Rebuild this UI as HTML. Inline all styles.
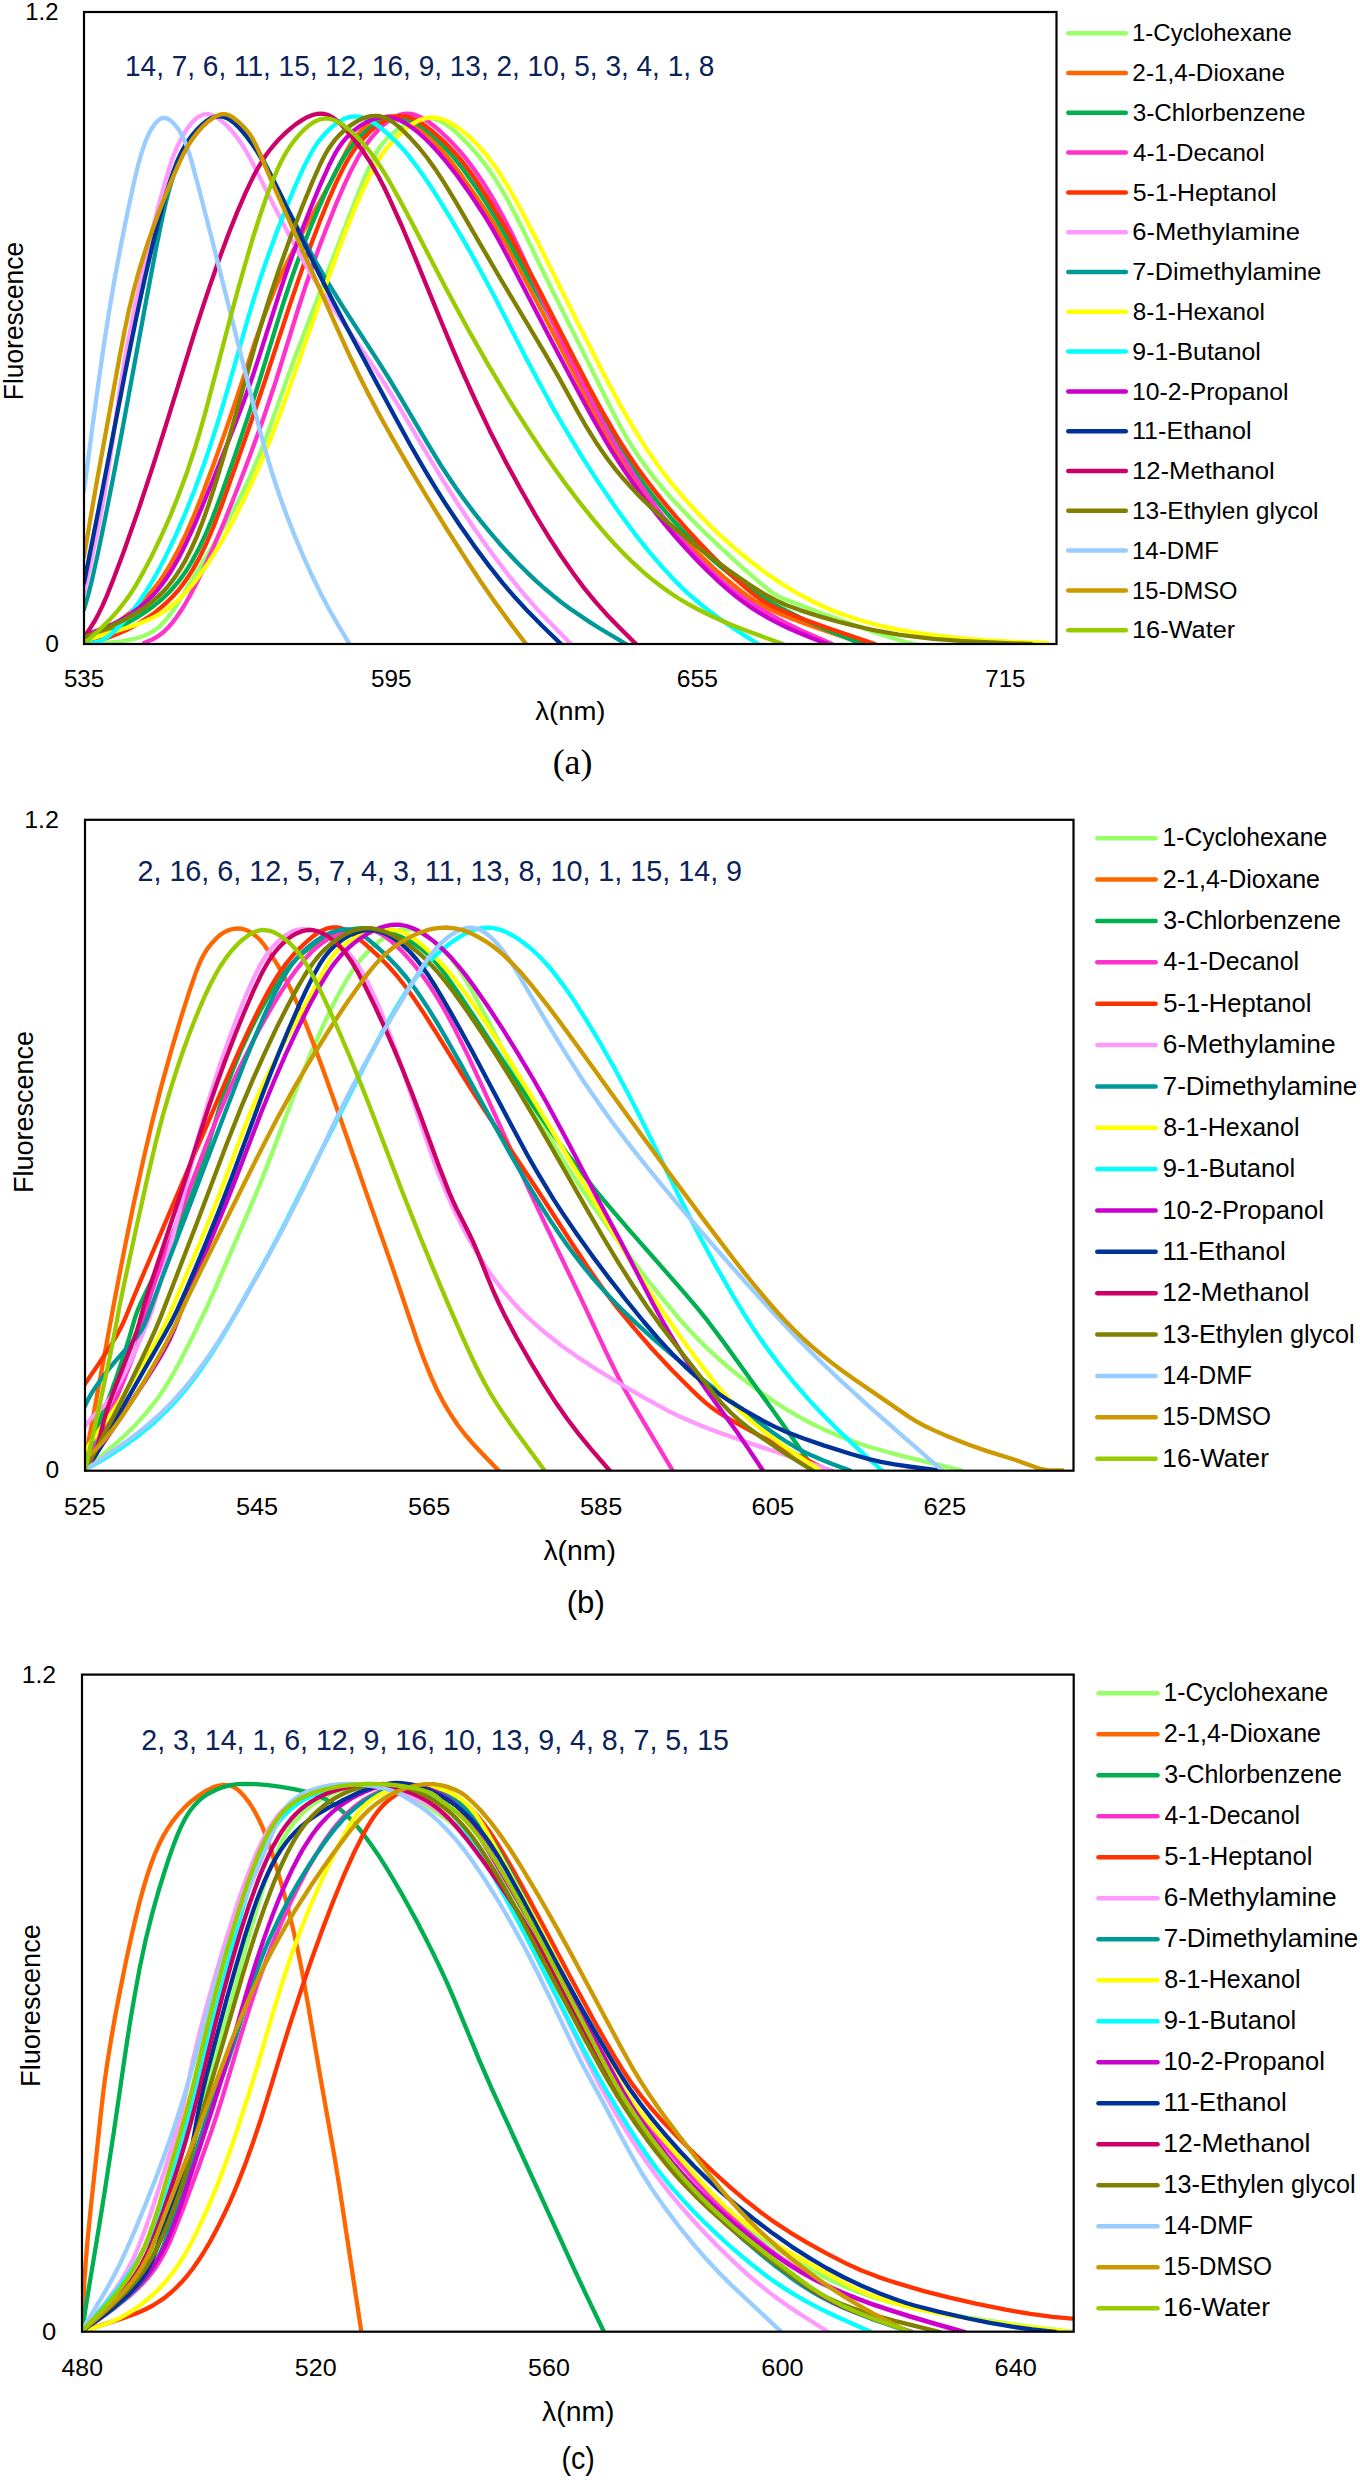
<!DOCTYPE html><html><head><meta charset="utf-8"><style>html,body{margin:0;padding:0;background:#fff;}svg{display:block;}</style></head><body>
<svg width="1360" height="2480" viewBox="0 0 1360 2480">
<rect width="1360" height="2480" fill="#fff"/>
<clipPath id="ac"><rect x="83.5" y="9" width="973.5" height="635.5"/></clipPath>
<g clip-path="url(#ac)" fill="none" stroke-width="4.3" stroke-linecap="round" stroke-linejoin="round">
<path d="M84.0,644.0 105.8,642.9 114.1,642.1 121.4,641.3 127.9,640.2 134.2,638.8 139.8,637.2 144.7,635.5 149.2,633.4 153.2,631.1 157.1,628.4 160.7,625.3 164.4,621.6 167.8,617.5 171.4,612.8 175.4,607.0 207.5,554.8 216.8,539.2 225.0,525.1 233.3,510.2 240.4,496.7 246.5,484.3 252.4,471.5 258.6,456.7 265.0,440.6 272.1,421.1 287.3,378.1 295.4,356.0 348.7,217.5 357.1,196.1 363.8,179.5 369.5,166.4 373.8,157.3 378.5,149.1 381.0,145.5 383.5,142.4 386.4,139.1 389.3,136.2 392.6,133.4 396.1,130.8 400.1,128.0 404.4,125.5 408.5,123.4 412.7,121.7 416.9,120.2 420.7,119.2 424.5,118.6 428.2,118.4 431.4,118.5 434.6,119.1 437.8,120.1 441.0,121.4 444.0,123.0 447.2,125.1 450.6,127.7 454.4,130.9 460.1,136.3 466.1,142.3 471.7,148.1 476.7,153.8 481.4,159.6 485.9,165.4 490.1,171.3 494.4,177.8 499.9,186.7 505.5,196.2 511.3,207.0 517.6,219.0 525.1,234.1 542.8,271.0 554.3,294.4 587.2,360.4 609.6,405.8 616.2,418.6 622.1,429.5 628.0,439.8 633.9,449.3 640.2,458.8 646.8,468.0 653.5,476.9 660.4,485.4 668.3,494.7 676.8,504.0 687.7,515.5 700.0,527.9 712.8,540.3 726.9,553.5 742.2,567.4 757.3,580.5 769.7,590.7 772.7,593.0 775.3,594.7 778.6,596.4 782.8,598.4 798.4,604.6 822.1,613.5 850.2,623.6 876.0,632.6 896.5,639.3 907.6,642.6 915.0,644.0" stroke="#99ff66"/>
<path d="M84.0,644.0 102.5,632.5 115.8,623.6 127.3,615.0 137.6,606.2 142.2,601.7 146.7,597.1 151.1,592.2 155.0,587.4 158.8,582.4 162.7,576.8 170.4,564.5 177.8,550.9 185.4,535.3 192.9,518.2 201.1,497.7 214.0,463.2 226.5,428.1 237.6,395.4 254.9,342.4 263.3,318.4 269.0,303.4 274.8,289.2 281.0,275.4 287.4,261.9 294.3,248.4 302.1,233.6 332.7,178.2 347.0,150.0 350.1,144.6 353.1,140.0 357.1,134.9 361.6,130.3 366.4,126.2 371.7,122.6 376.9,119.8 382.1,117.7 387.0,116.5 391.9,116.1 396.0,116.4 400.2,117.3 404.4,118.7 408.8,120.8 413.4,123.6 418.1,126.9 422.9,130.8 428.2,135.7 433.3,140.7 438.3,146.1 443.4,152.0 448.6,158.4 461.7,175.9 476.1,196.4 486.4,212.0 495.8,227.0 504.4,241.5 513.8,258.4 534.5,297.2 555.5,337.5 570.3,366.2 597.4,420.1 605.1,434.3 612.4,447.1 618.2,456.7 624.3,466.4 630.3,475.2 636.6,484.0 643.4,492.9 650.6,501.9 658.5,511.3 666.7,520.6 678.1,533.0 690.1,545.3 702.4,557.4 714.7,569.0 726.5,579.4 737.6,588.5 747.2,595.8 756.1,601.7 763.4,606.0 771.2,610.0 780.3,614.0 791.4,618.5 804.6,623.4 820.2,629.0 865.0,644.0" stroke="#ff6600"/>
<path d="M84.0,644.0 107.7,633.1 124.8,624.4 132.3,620.2 139.5,615.8 146.2,611.4 152.3,607.0 158.1,602.4 163.4,597.8 168.5,592.9 173.3,587.7 177.9,582.2 182.5,576.1 186.9,569.7 191.0,563.0 198.2,549.9 205.4,534.8 212.5,517.7 220.2,497.4 235.0,455.4 248.6,414.9 259.2,381.6 280.0,313.6 286.2,294.5 292.0,277.0 300.3,253.9 309.1,231.0 318.0,209.6 326.4,190.6 335.3,172.4 339.1,165.2 343.0,158.6 346.7,152.9 350.3,147.8 354.1,143.1 358.1,138.7 362.9,134.0 368.1,129.6 373.4,125.8 378.4,122.7 383.3,120.4 388.3,118.6 392.9,117.5 397.6,117.1 401.4,117.4 405.2,118.1 409.1,119.4 413.3,121.2 417.4,123.5 421.9,126.6 426.6,130.1 431.6,134.4 437.1,139.5 442.5,144.9 447.7,150.5 453.1,156.7 458.3,163.2 463.8,170.2 475.3,186.4 483.7,199.1 492.0,212.3 500.2,226.0 508.5,240.6 569.0,351.7 607.2,424.1 614.3,437.1 621.0,448.6 626.9,458.4 632.8,467.6 638.6,476.4 644.8,485.2 651.4,494.0 657.9,502.4 664.7,510.6 671.7,518.8 681.4,529.4 691.4,539.8 701.8,549.9 712.4,559.6 723.3,568.9 733.9,577.4 744.7,585.4 755.1,592.5 765.6,599.1 776.2,605.3 787.7,611.5 799.8,617.5 812.3,623.4 825.9,629.3 841.3,635.7 862.0,644.0" stroke="#00b050"/>
<path d="M144.0,643.0 149.9,640.6 154.2,638.5 158.0,636.2 161.6,633.6 165.1,630.6 168.7,626.9 172.4,622.6 176.3,617.5 180.4,611.6 184.7,604.8 189.0,597.3 193.6,588.8 203.2,569.8 213.5,547.1 224.5,521.1 236.3,491.5 248.9,458.6 260.4,426.9 268.3,403.8 275.8,381.2 296.3,315.0 303.8,291.5 311.1,270.0 318.4,249.3 327.1,226.4 335.8,204.7 344.0,185.7 351.5,169.7 358.1,157.2 361.4,151.8 364.7,146.7 368.0,142.1 371.7,137.4 375.7,132.8 379.7,128.5 383.6,124.8 387.1,121.9 390.6,119.4 394.1,117.3 397.4,115.7 400.8,114.5 404.0,113.8 407.2,113.6 411.0,113.9 414.8,114.8 418.9,116.4 423.0,118.4 427.3,121.0 431.8,124.3 436.5,128.0 441.8,132.7 447.6,138.2 453.3,144.1 458.7,150.0 464.0,156.1 469.0,162.5 474.0,169.3 479.2,176.7 484.5,184.7 491.2,195.6 498.0,207.4 504.6,219.5 511.1,232.0 520.7,252.1 550.5,317.3 566.9,351.9 585.7,390.0 594.2,406.6 602.2,421.5 610.7,436.7 619.1,450.9 627.5,464.7 636.0,478.1 645.0,491.5 654.2,504.5 663.4,517.0 672.3,528.4 680.8,538.8 689.6,548.9 698.2,558.2 706.7,566.9 715.3,575.1 723.7,582.6 732.3,589.6 740.5,595.8 749.4,601.9 758.3,607.6 767.8,613.2 778.2,619.0 788.8,624.3 800.7,630.1 832.0,644.0" stroke="#ff33cc"/>
<path d="M84.0,644.0 94.4,641.6 102.3,639.4 109.8,636.9 117.3,634.0 125.4,630.5 133.1,626.5 140.7,622.1 148.0,617.4 155.0,612.4 161.4,607.2 167.4,601.8 173.2,596.0 178.4,590.2 183.3,583.9 187.9,577.3 192.6,569.9 199.5,557.6 206.3,543.5 213.2,527.4 220.6,508.3 238.3,458.6 255.1,410.2 266.1,377.5 289.7,305.4 302.8,267.1 311.7,242.7 320.2,220.4 328.3,200.4 335.7,183.6 343.4,167.9 346.9,161.3 350.3,155.7 353.8,150.4 357.3,145.6 361.1,141.0 365.3,136.4 370.1,131.6 374.8,127.5 379.5,124.0 384.2,121.0 388.6,118.8 392.9,117.2 396.9,116.3 400.9,116.0 404.4,116.2 408.2,117.0 411.9,118.2 415.6,119.8 419.6,122.0 423.8,124.6 428.2,127.9 433.0,131.8 438.7,136.8 444.5,142.1 450.0,147.7 455.1,153.2 460.1,158.9 464.8,164.8 469.7,171.2 474.5,178.0 483.6,191.7 493.7,208.0 508.4,233.2 520.6,254.9 537.5,286.6 574.0,358.1 589.8,388.4 603.0,412.7 615.2,433.8 623.1,446.4 630.7,458.1 638.6,469.4 647.0,480.9 656.0,492.6 665.5,504.4 675.9,516.7 686.6,528.8 698.2,541.5 709.7,553.5 721.2,565.1 732.1,575.6 741.7,584.4 750.3,591.7 757.6,597.3 764.4,601.8 770.8,605.5 778.1,609.0 787.7,613.1 799.3,617.7 829.2,628.5 875.0,644.0" stroke="#ff3300"/>
<path d="M84.0,594.0 96.3,536.4 100.7,514.4 104.4,494.1 109.6,461.6 120.8,383.4 124.6,360.2 129.0,336.4 134.9,306.7 142.0,274.2 149.8,240.6 157.5,209.9 164.5,184.1 170.5,164.2 173.0,157.0 175.4,150.7 178.0,144.9 180.7,139.5 184.2,133.3 187.7,127.9 191.1,123.5 194.6,119.8 198.0,117.1 201.3,115.3 204.7,114.3 208.1,114.2 211.8,115.1 215.7,116.9 219.9,119.6 224.2,123.1 228.8,127.7 233.6,133.1 238.3,139.3 242.7,145.7 247.5,153.7 252.9,163.6 277.1,211.9 289.7,236.3 300.6,256.0 311.1,274.1 320.4,289.0 331.0,305.1 370.6,362.4 385.9,385.5 401.7,411.1 431.2,460.9 443.8,481.7 458.1,504.2 472.8,526.2 485.1,543.9 497.3,560.5 509.3,576.2 520.7,590.3 531.3,602.6 542.7,615.1 554.7,627.6 571.0,644.0" stroke="#ff99ff"/>
<path d="M84.0,609.4 88.2,595.0 92.2,579.1 97.8,553.9 104.6,520.9 112.5,481.2 120.6,439.2 146.3,299.9 155.9,249.3 159.6,230.9 163.0,214.9 166.3,200.8 169.4,188.8 174.2,173.2 176.6,166.5 179.1,160.4 181.8,154.5 184.6,149.1 187.8,143.8 191.1,138.7 195.5,132.7 199.3,127.9 202.9,124.1 206.3,121.1 209.9,118.7 213.2,117.1 216.4,116.3 219.7,116.1 223.7,116.9 228.0,118.6 232.4,121.2 237.0,124.7 241.7,129.1 246.7,134.5 251.1,140.0 255.3,146.2 259.5,153.2 264.3,162.0 288.9,211.2 303.1,238.6 315.5,261.3 327.0,281.1 343.9,308.4 376.3,358.4 389.0,378.5 400.5,397.6 426.9,442.4 440.5,464.7 448.6,477.0 456.5,488.7 464.8,500.3 473.5,511.9 482.2,522.9 490.9,533.4 499.7,543.7 508.7,553.6 517.9,563.2 526.8,572.1 535.7,580.6 544.6,588.5 552.8,595.4 561.3,602.2 570.1,608.7 579.3,615.1 588.7,621.4 599.1,628.0 626.0,644.0" stroke="#009999"/>
<path d="M84.0,641.0 105.9,634.1 128.5,627.2 138.2,623.9 144.8,621.3 150.8,618.7 156.3,615.8 161.8,612.6 168.0,608.5 173.8,603.9 179.3,599.0 184.9,593.4 190.2,587.4 196.0,580.3 201.7,572.5 207.8,563.7 214.8,552.7 221.8,541.1 228.9,528.5 236.1,514.9 243.4,500.6 250.2,486.3 256.8,471.6 263.3,456.6 272.6,433.5 282.6,406.9 322.5,294.0 340.6,244.4 348.6,223.9 355.9,205.9 362.5,190.8 368.9,177.5 372.6,170.4 376.2,163.9 379.8,158.0 383.3,152.9 386.8,148.1 390.7,143.4 394.8,138.9 399.0,134.7 403.5,130.7 407.9,127.1 412.2,124.2 416.4,121.8 420.3,119.9 424.3,118.6 428.4,117.8 432.1,117.5 435.3,117.7 438.8,118.3 442.3,119.3 446.1,120.8 449.9,122.6 453.6,124.8 457.6,127.4 461.8,130.6 466.2,134.1 470.7,138.1 479.2,146.6 487.1,155.9 495.1,166.5 501.2,175.6 507.6,186.0 514.3,197.5 521.5,210.7 537.2,241.1 579.5,326.4 603.1,372.8 614.0,393.6 623.1,410.2 632.0,425.5 640.3,439.1 650.4,454.6 660.6,469.0 671.3,482.9 682.9,496.8 695.3,510.5 708.4,524.1 722.2,537.2 736.0,549.4 751.7,562.3 767.2,573.9 782.8,584.5 797.8,593.6 812.8,601.5 820.6,605.2 828.3,608.7 836.1,611.9 844.4,615.0 861.1,620.5 878.5,625.3 897.2,629.4 917.2,633.0 938.9,636.0 962.1,638.4 986.8,640.3 1014.7,641.8 1047.0,643.0" stroke="#ffff00"/>
<path d="M90.0,643.0 94.9,642.3 98.7,641.4 102.3,639.9 106.0,637.9 110.1,634.9 114.5,631.2 119.2,626.5 124.2,621.2 129.2,615.1 134.5,608.2 139.9,600.7 145.2,592.8 150.4,584.4 155.5,575.7 160.6,566.2 165.7,556.4 175.6,535.8 185.2,513.6 194.7,489.7 204.0,464.3 212.3,439.6 220.7,412.9 228.5,386.3 247.8,319.0 254.0,298.4 259.9,279.8 268.0,256.1 276.9,231.6 286.1,208.1 295.1,186.3 303.3,168.1 309.9,155.2 312.9,149.9 316.0,145.1 319.2,140.6 322.7,136.3 326.9,131.7 331.3,127.6 335.4,124.1 339.6,121.3 343.6,119.1 347.6,117.6 351.5,116.6 355.3,116.3 358.8,116.6 362.3,117.4 366.0,118.7 370.0,120.6 373.9,122.9 378.3,125.9 382.7,129.5 387.7,133.8 393.1,138.8 398.1,143.8 402.9,149.0 407.5,154.4 417.0,166.6 427.5,181.7 438.2,198.2 449.7,216.9 462.0,237.7 474.5,259.6 484.2,277.5 494.3,296.3 526.3,358.4 538.4,381.3 551.8,405.8 565.2,429.0 581.9,456.6 599.3,483.6 617.2,509.7 625.9,521.7 634.1,532.8 648.8,551.3 662.8,567.6 669.9,575.3 676.6,582.4 683.4,589.1 689.9,595.1 696.8,601.0 703.6,606.7 710.8,612.3 718.7,618.1 735.2,629.4 758.0,644.0" stroke="#00ffff"/>
<path d="M84.0,635.0 93.2,632.0 100.1,629.5 107.0,626.7 113.7,623.6 120.1,620.3 126.4,616.7 132.3,612.8 137.9,608.8 143.2,604.5 148.1,600.1 152.9,595.3 157.3,590.3 161.6,585.0 165.7,579.3 170.0,572.8 174.1,566.0 179.4,556.6 184.6,546.3 189.9,535.1 195.7,522.1 202.9,504.7 215.9,472.8 234.8,425.0 244.6,399.2 252.8,375.8 260.1,353.7 279.6,292.7 285.9,273.9 292.3,255.8 301.5,231.2 311.0,207.3 320.4,184.6 328.9,165.8 334.7,154.4 337.4,149.7 340.2,145.5 343.1,141.6 346.2,137.9 349.5,134.5 353.0,131.3 357.1,128.1 361.1,125.3 365.3,122.8 369.6,120.7 373.8,119.1 377.9,118.0 382.1,117.3 386.0,117.1 390.1,117.4 394.4,118.3 398.9,119.9 403.3,122.0 407.9,124.7 412.6,128.0 417.7,132.0 423.2,136.8 428.6,142.0 433.9,147.5 439.3,153.5 445.1,160.3 451.3,168.1 457.9,176.7 470.9,195.1 479.0,207.2 486.5,218.9 493.2,230.2 499.8,241.9 508.6,258.4 549.3,336.7 576.1,387.5 591.2,415.4 603.9,437.8 611.1,449.8 618.1,460.9 625.5,472.1 632.9,482.8 640.4,493.2 648.6,504.1 657.2,514.9 666.0,525.6 676.1,537.5 686.4,549.0 696.7,559.9 706.8,570.3 716.8,579.8 726.1,588.1 734.9,595.6 743.4,602.1 751.7,607.9 760.0,613.2 768.5,618.1 777.5,622.9 787.5,627.7 798.3,632.5 810.4,637.5 827.0,644.0" stroke="#cc00cc"/>
<path d="M84.0,583.0 101.5,494.8 125.8,369.1 136.6,316.1 144.5,279.6 152.2,246.4 159.1,218.8 165.6,195.4 171.6,176.4 174.5,168.4 177.2,161.3 180.0,155.1 182.8,149.5 185.8,144.4 189.1,139.4 193.3,133.9 197.6,129.0 201.9,124.8 206.2,121.3 210.2,118.8 214.1,117.1 217.8,116.3 221.5,116.3 223.5,116.7 225.6,117.4 227.8,118.4 230.0,119.7 234.6,123.2 239.3,127.9 245.2,134.8 251.5,143.1 257.2,151.6 262.8,160.9 269.1,172.2 276.5,186.5 318.4,272.5 330.7,296.7 345.1,324.2 394.9,416.8 409.8,444.0 419.1,460.3 427.8,475.2 436.5,489.4 445.3,503.3 459.5,524.8 474.0,545.6 488.5,565.1 502.5,582.8 514.9,597.3 528.1,611.6 542.1,625.8 561.0,644.0" stroke="#003399"/>
<path d="M85.0,636.0 90.5,627.7 94.7,621.0 98.5,613.9 102.4,605.9 106.8,595.8 111.8,583.4 124.0,550.9 138.6,509.4 153.0,465.9 166.1,424.6 194.0,334.3 201.8,310.2 209.2,287.8 218.7,260.5 228.0,235.3 236.9,212.9 245.2,193.7 249.5,184.4 253.6,176.1 257.7,168.5 261.5,162.0 265.4,156.0 269.4,150.5 273.6,145.3 278.2,140.1 284.1,134.2 290.4,128.6 296.3,123.9 302.0,120.1 307.1,117.2 312.0,115.2 316.6,114.0 321.0,113.6 323.8,113.9 326.6,114.6 329.3,115.6 332.1,117.1 334.8,119.0 337.7,121.3 340.7,124.0 344.0,127.4 354.6,140.1 363.6,152.0 371.3,163.9 378.6,176.7 383.8,186.8 389.3,198.3 401.8,226.0 414.3,255.7 441.1,321.2 452.5,348.6 464.5,376.4 476.1,402.0 490.1,431.4 504.8,460.1 520.1,488.3 535.7,515.5 548.4,536.3 560.8,555.5 572.8,572.8 584.2,588.1 594.9,601.2 606.4,614.2 618.9,627.1 636.0,644.0" stroke="#cc0066"/>
<path d="M84.0,637.6 106.6,628.1 114.9,624.3 122.7,620.5 129.8,616.7 136.3,612.9 142.6,608.9 148.2,604.8 153.7,600.4 158.6,596.1 163.3,591.5 167.8,586.5 172.0,581.2 176.3,575.2 180.4,568.9 184.6,561.9 190.7,550.0 196.8,536.6 202.7,521.5 208.7,504.6 216.0,482.2 223.9,455.9 231.9,428.2 254.6,347.0 262.5,320.4 269.9,296.6 279.6,267.7 290.3,237.8 301.7,208.1 312.5,181.6 320.1,164.5 323.2,158.2 326.0,153.0 328.9,148.2 331.9,144.0 335.0,139.9 338.6,135.9 343.0,131.6 347.6,127.7 352.5,124.1 357.3,121.1 362.0,118.8 366.6,117.1 371.0,116.1 375.3,115.8 378.3,115.9 381.2,116.5 384.1,117.4 387.2,118.7 390.2,120.4 393.4,122.4 399.8,127.6 404.2,131.7 409.3,136.9 418.9,147.5 427.3,158.0 435.6,169.7 444.7,183.7 455.6,201.7 500.0,278.0 545.4,354.1 557.7,375.4 577.7,411.7 586.6,427.2 597.3,444.3 602.6,452.1 607.9,459.5 615.5,469.4 623.4,478.8 631.5,487.8 640.7,497.4 651.1,507.4 662.5,517.8 674.9,528.5 688.0,539.3 707.7,554.7 728.3,569.9 748.9,584.2 757.9,590.0 765.4,594.7 775.6,600.2 786.6,605.2 799.9,610.1 816.2,615.4 828.2,618.9 840.1,622.2 852.0,625.2 864.1,628.0 876.2,630.6 887.6,632.7 898.7,634.6 909.9,636.2 933.6,638.8 960.1,640.9 989.6,642.5 1031.0,644.0" stroke="#808000"/>
<path d="M84.0,491.0 92.1,429.5 98.2,384.7 103.6,346.7 108.8,313.3 114.4,280.2 120.5,247.4 127.2,213.9 133.6,184.0 138.3,164.3 142.0,151.4 145.7,140.8 147.8,136.0 150.1,131.4 152.5,127.4 154.9,123.9 157.3,121.3 159.6,119.4 161.9,118.2 164.1,117.8 166.4,118.2 168.6,119.2 171.7,121.4 174.7,124.6 177.9,128.7 181.0,133.7 183.7,138.9 186.1,144.5 188.4,150.9 190.8,158.4 198.8,188.2 212.7,242.3 259.1,427.4 264.1,445.8 269.0,462.8 274.0,479.0 279.1,494.3 286.5,514.9 294.7,535.9 303.4,556.5 312.1,575.8 320.2,592.4 328.4,608.0 337.4,623.8 349.5,644.0" stroke="#99ccff"/>
<path d="M84.0,557.0 90.9,515.6 96.6,482.9 120.6,351.4 124.5,331.2 128.9,310.2 133.5,291.0 138.3,273.2 143.9,254.8 148.7,240.2 154.1,225.1 159.8,209.7 165.9,194.2 172.6,178.0 178.9,163.6 183.3,154.4 187.5,146.7 192.0,139.6 197.0,133.0 202.4,126.9 207.9,121.7 213.1,117.9 217.8,115.4 220.1,114.6 222.1,114.2 224.0,114.1 226.0,114.3 229.3,115.4 232.8,117.4 237.7,121.2 242.4,125.5 246.1,129.5 249.3,133.5 252.1,137.9 254.9,143.0 259.6,152.9 270.0,177.3 279.5,198.9 310.4,267.9 337.3,328.6 349.0,354.4 359.2,375.8 369.3,395.8 380.5,416.9 392.7,438.8 409.0,466.9 428.2,499.0 447.6,530.4 466.1,559.4 480.8,581.7 494.3,601.2 508.1,620.3 526.0,644.0" stroke="#cc9900"/>
<path d="M84.0,644.0 99.2,630.0 110.1,619.3 118.7,609.6 126.3,599.8 130.3,594.1 134.3,587.8 142.8,573.1 151.8,555.9 160.9,537.0 170.6,515.1 179.4,493.1 187.1,471.9 194.6,449.3 200.1,431.1 205.9,410.3 231.7,312.6 239.0,285.9 245.8,262.0 252.7,238.5 259.4,217.5 265.7,199.0 271.5,183.3 277.7,168.8 280.7,162.5 283.7,156.8 286.7,151.5 289.9,146.6 293.2,142.0 296.7,137.6 300.7,133.1 304.6,129.2 308.5,125.8 312.1,123.2 315.6,121.2 319.1,119.7 322.5,118.8 325.9,118.5 328.5,118.7 331.3,119.2 334.0,120.1 336.8,121.3 339.8,122.9 342.8,124.8 349.3,129.7 356.9,136.8 364.0,144.4 370.6,152.5 377.5,162.1 382.5,170.0 388.0,179.0 400.6,201.4 412.7,224.3 445.6,287.8 467.9,329.0 487.4,363.4 506.8,396.0 518.9,415.4 531.2,434.4 543.4,452.6 555.6,470.0 568.6,487.9 581.0,504.2 592.6,518.7 603.9,532.1 613.4,542.7 622.8,552.6 632.0,561.7 641.1,570.1 650.4,578.1 659.6,585.3 668.5,591.8 678.0,598.0 687.8,603.9 698.2,609.5 709.2,615.0 721.3,620.5 733.5,625.7 747.3,631.1 783.0,644.0" stroke="#99cc00"/>
</g>
<rect x="84" y="12" width="972.5" height="632" fill="none" stroke="#000" stroke-width="2.2"/>
<line x1="1068.3" y1="33.2" x2="1125.8" y2="33.2" stroke="#99ff66" stroke-width="4.5" stroke-linecap="round"/>
<line x1="1068.3" y1="73.0" x2="1125.8" y2="73.0" stroke="#ff6600" stroke-width="4.5" stroke-linecap="round"/>
<line x1="1068.3" y1="112.8" x2="1125.8" y2="112.8" stroke="#00b050" stroke-width="4.5" stroke-linecap="round"/>
<line x1="1068.3" y1="152.6" x2="1125.8" y2="152.6" stroke="#ff33cc" stroke-width="4.5" stroke-linecap="round"/>
<line x1="1068.3" y1="192.4" x2="1125.8" y2="192.4" stroke="#ff3300" stroke-width="4.5" stroke-linecap="round"/>
<line x1="1068.3" y1="232.2" x2="1125.8" y2="232.2" stroke="#ff99ff" stroke-width="4.5" stroke-linecap="round"/>
<line x1="1068.3" y1="272.0" x2="1125.8" y2="272.0" stroke="#009999" stroke-width="4.5" stroke-linecap="round"/>
<line x1="1068.3" y1="311.8" x2="1125.8" y2="311.8" stroke="#ffff00" stroke-width="4.5" stroke-linecap="round"/>
<line x1="1068.3" y1="351.6" x2="1125.8" y2="351.6" stroke="#00ffff" stroke-width="4.5" stroke-linecap="round"/>
<line x1="1068.3" y1="391.4" x2="1125.8" y2="391.4" stroke="#cc00cc" stroke-width="4.5" stroke-linecap="round"/>
<line x1="1068.3" y1="431.2" x2="1125.8" y2="431.2" stroke="#003399" stroke-width="4.5" stroke-linecap="round"/>
<line x1="1068.3" y1="471.0" x2="1125.8" y2="471.0" stroke="#cc0066" stroke-width="4.5" stroke-linecap="round"/>
<line x1="1068.3" y1="510.8" x2="1125.8" y2="510.8" stroke="#808000" stroke-width="4.5" stroke-linecap="round"/>
<line x1="1068.3" y1="550.6" x2="1125.8" y2="550.6" stroke="#99ccff" stroke-width="4.5" stroke-linecap="round"/>
<line x1="1068.3" y1="590.4" x2="1125.8" y2="590.4" stroke="#cc9900" stroke-width="4.5" stroke-linecap="round"/>
<line x1="1068.3" y1="630.2" x2="1125.8" y2="630.2" stroke="#99cc00" stroke-width="4.5" stroke-linecap="round"/>
<clipPath id="bc"><rect x="84.5" y="816.8" width="989.5" height="654.4000000000001"/></clipPath>
<g clip-path="url(#bc)" fill="none" stroke-width="4.3" stroke-linecap="round" stroke-linejoin="round">
<path d="M85.0,1470.0 91.0,1464.6 108.7,1449.7 118.6,1441.1 127.9,1432.5 136.8,1423.4 146.2,1412.9 154.6,1402.4 161.9,1392.2 169.1,1380.8 174.0,1372.3 179.6,1361.9 193.1,1335.8 204.7,1311.8 215.5,1287.8 252.0,1203.3 260.0,1184.1 268.7,1161.9 293.3,1097.1 301.1,1077.3 308.6,1058.9 316.4,1040.6 323.9,1024.1 330.8,1009.4 337.4,996.3 345.9,981.2 349.8,974.9 353.8,968.9 357.9,963.3 362.0,958.2 366.2,953.4 370.5,949.0 375.6,944.4 380.6,940.2 385.5,936.7 389.9,934.0 394.1,931.9 398.4,930.3 402.4,929.4 406.4,929.1 409.2,929.2 412.0,929.6 414.8,930.3 417.8,931.4 423.9,934.3 430.3,938.6 437.3,944.2 444.0,950.7 450.3,957.8 456.5,965.8 461.4,973.1 466.4,981.1 471.9,990.6 477.9,1001.4 489.4,1023.3 520.5,1084.6 529.5,1101.7 538.7,1118.5 548.0,1134.9 557.6,1151.0 567.5,1167.1 577.5,1182.7 592.5,1205.0 609.2,1228.8 627.2,1253.3 645.5,1277.2 662.9,1299.1 678.8,1318.2 692.1,1333.1 704.8,1346.1 717.1,1357.5 730.6,1369.1 745.4,1380.9 760.5,1392.2 775.2,1402.2 789.4,1411.2 802.9,1419.0 816.8,1426.1 829.6,1432.0 842.8,1437.4 857.6,1443.0 870.5,1447.2 883.8,1451.0 901.8,1455.8 962.0,1470.5" stroke="#99ff66"/>
<path d="M84.0,1466.0 114.9,1298.3 124.4,1249.4 133.5,1204.8 142.9,1161.6 151.7,1124.0 160.7,1088.6 170.8,1052.1 181.3,1016.6 191.1,986.2 194.8,975.6 197.9,967.3 200.8,960.5 203.6,955.0 207.0,949.4 210.9,944.3 216.3,938.4 221.1,934.2 225.0,931.7 229.0,930.0 233.6,928.8 238.2,928.5 241.1,928.7 243.9,929.3 246.6,930.2 249.5,931.7 252.6,933.6 255.7,935.9 258.5,938.4 261.2,941.3 264.2,945.0 268.0,950.4 277.1,964.1 284.2,976.4 290.7,989.0 297.8,1004.6 305.4,1022.9 313.8,1044.6 323.4,1070.6 338.5,1113.0 367.7,1196.9 392.5,1267.6 417.7,1342.2 424.6,1361.0 431.1,1376.9 437.2,1390.3 443.7,1402.8 450.7,1414.5 458.1,1425.5 465.0,1434.5 473.2,1444.0 483.3,1454.8 498.6,1470.5" stroke="#ff6600"/>
<path d="M85.0,1470.0 92.7,1442.9 98.0,1425.8 101.7,1415.4 110.0,1395.2 116.9,1376.0 125.9,1348.7 130.0,1335.0 134.6,1319.2 137.1,1311.6 140.4,1303.9 145.2,1293.6 166.4,1250.9 175.7,1231.9 183.1,1215.7 189.2,1201.3 195.0,1186.2 200.6,1170.0 205.7,1153.6 218.8,1109.8 223.2,1096.3 227.5,1084.0 233.7,1067.8 240.6,1051.2 248.1,1034.9 255.8,1019.2 262.0,1007.6 267.9,997.2 273.8,987.6 279.6,979.0 285.1,971.6 290.9,964.8 296.5,959.0 302.5,953.5 309.6,948.0 317.5,942.7 325.3,938.3 333.3,934.6 340.9,931.8 348.4,929.8 355.8,928.6 363.4,928.2 368.2,928.4 373.4,928.9 378.6,929.7 384.1,931.0 389.6,932.5 395.0,934.4 400.2,936.5 405.2,938.9 410.0,941.4 414.6,944.2 418.9,947.1 422.9,950.1 426.7,953.3 430.6,957.0 434.3,960.9 438.2,965.3 442.7,971.0 447.8,977.9 461.4,997.5 475.9,1019.3 514.3,1077.9 533.8,1106.9 550.3,1130.5 566.4,1152.7 586.5,1178.8 597.1,1192.0 607.7,1204.8 630.0,1230.9 684.0,1292.3 697.0,1307.7 707.9,1321.2 723.2,1341.6 771.4,1408.3 790.4,1435.1 815.0,1470.5" stroke="#00b050"/>
<path d="M85.0,1470.0 101.8,1432.0 114.2,1403.3 124.8,1377.8 132.9,1357.0 137.2,1345.1 140.4,1335.0 142.4,1327.4 145.7,1312.5 147.6,1305.0 151.0,1293.9 155.6,1280.1 161.7,1262.8 169.8,1241.0 206.1,1145.3 217.2,1117.8 228.0,1092.7 239.6,1067.9 252.0,1043.2 260.2,1027.6 268.6,1012.7 276.5,999.2 284.1,987.2 291.4,976.4 298.2,967.3 304.7,959.3 311.0,952.5 316.8,947.2 322.6,942.6 328.5,938.9 334.7,936.0 341.6,933.5 349.3,931.6 358.0,930.2 365.6,929.6 369.7,929.9 373.5,930.7 377.3,932.1 381.4,934.2 386.1,937.2 391.0,941.1 396.2,945.6 401.5,950.8 406.9,956.5 412.7,963.2 418.5,970.3 423.9,977.5 429.2,985.1 434.3,992.9 439.6,1001.4 444.7,1010.2 450.1,1020.1 455.9,1031.1 468.2,1056.1 479.3,1080.1 514.9,1158.9 530.7,1193.3 545.8,1225.3 580.6,1297.6 606.2,1352.3 615.4,1371.3 622.9,1386.1 631.1,1400.8 672.6,1470.5" stroke="#ff33cc"/>
<path d="M84.0,1385.3 99.5,1362.6 109.7,1347.0 117.1,1334.8 122.2,1325.0 125.0,1318.7 133.8,1297.0 144.9,1270.5 210.4,1116.8 228.6,1074.7 240.1,1048.7 250.3,1026.7 259.4,1008.2 267.6,992.6 272.0,984.9 276.3,977.8 280.5,971.5 284.8,965.4 289.2,959.8 293.6,954.6 298.4,949.6 303.6,944.5 308.6,940.0 313.4,936.1 317.8,933.0 321.8,930.7 325.9,928.9 329.7,927.8 333.3,927.3 336.9,927.4 339.8,927.9 342.6,928.8 345.7,930.1 349.0,931.8 355.7,936.3 364.1,943.2 376.8,954.6 386.9,964.5 396.3,975.0 405.4,986.5 414.4,999.1 424.6,1014.4 438.2,1035.8 468.9,1085.5 482.3,1106.6 498.5,1131.4 537.8,1190.5 572.7,1244.5 587.5,1266.8 603.0,1288.9 617.8,1308.4 634.1,1328.2 652.2,1349.0 671.6,1369.7 690.6,1388.8 698.5,1396.4 705.1,1402.3 710.5,1406.7 716.0,1410.7 722.1,1414.7 729.9,1419.4 751.6,1431.4 781.8,1447.1 828.0,1470.5" stroke="#ff3300"/>
<path d="M84.0,1428.0 88.0,1422.3 91.2,1418.2 93.9,1415.5 102.2,1407.6 107.1,1402.1 111.7,1396.0 116.4,1388.6 123.4,1375.8 131.4,1359.4 141.0,1337.7 146.5,1324.7 149.6,1316.9 152.7,1308.0 156.2,1297.1 165.4,1264.7 177.0,1221.0 197.9,1138.9 204.1,1116.2 210.1,1095.7 219.3,1066.8 229.8,1036.9 240.3,1009.3 245.4,996.7 250.2,985.6 257.0,971.3 260.0,965.5 263.1,960.2 266.3,955.3 269.4,951.0 272.7,947.0 276.3,943.2 280.0,939.6 283.8,936.6 287.5,934.1 291.2,932.1 294.9,930.6 298.5,929.6 302.3,929.1 306.1,929.1 309.8,929.5 313.4,930.3 317.4,931.5 321.4,933.1 325.7,935.2 329.8,937.6 333.9,940.3 338.0,943.3 341.6,946.4 345.1,949.5 348.3,952.8 351.6,956.6 354.5,960.3 357.5,964.5 363.3,974.0 368.8,984.6 374.7,997.1 381.1,1012.1 387.9,1029.3 395.1,1048.5 402.7,1070.0 425.0,1135.8 433.4,1159.9 438.6,1173.6 443.7,1186.3 448.6,1198.0 454.0,1209.8 461.2,1224.6 468.8,1238.9 476.6,1252.4 485.0,1265.7 493.3,1277.7 502.1,1289.3 511.1,1300.0 520.5,1310.2 526.6,1316.3 532.9,1322.2 546.4,1333.8 561.2,1345.4 577.7,1357.1 597.5,1370.0 622.2,1385.0 647.2,1399.4 668.7,1411.1 679.5,1416.4 689.3,1420.8 706.8,1427.9 719.7,1432.8 758.3,1446.1 832.0,1470.5" stroke="#ff99ff"/>
<path d="M84.0,1408.0 87.3,1401.0 90.5,1395.1 94.5,1388.7 99.7,1381.2 106.8,1371.7 114.5,1362.2 120.9,1354.8 132.5,1341.8 137.0,1336.4 141.3,1330.4 144.6,1324.2 147.3,1317.7 160.6,1281.7 193.6,1195.6 225.8,1110.7 243.9,1064.0 254.3,1038.5 263.5,1017.0 271.9,999.0 279.7,983.9 283.5,977.3 287.2,971.4 290.7,966.1 294.3,961.3 298.1,956.9 302.0,952.7 306.1,948.8 310.4,945.1 315.3,941.4 320.4,938.0 325.4,935.2 330.2,932.9 335.0,931.2 339.4,930.0 343.5,929.5 347.5,929.5 350.5,929.9 353.7,930.8 356.8,932.0 360.1,933.7 363.3,935.7 366.9,938.3 375.9,945.8 387.4,956.4 397.1,966.5 406.5,977.5 415.4,989.3 422.0,998.9 429.0,1009.7 436.6,1022.0 444.9,1036.0 460.6,1063.7 495.2,1126.8 511.0,1155.1 527.5,1183.7 543.1,1209.1 551.3,1221.9 559.3,1233.8 567.3,1245.3 575.1,1255.8 582.9,1265.9 591.1,1276.0 599.4,1285.6 608.2,1295.3 621.7,1309.4 636.4,1323.4 652.8,1338.3 671.3,1354.1 690.9,1370.1 712.9,1387.4 739.5,1407.7 769.6,1430.2 779.3,1437.0 788.0,1442.7 796.0,1447.5 804.2,1451.9 813.1,1456.1 822.9,1460.3 834.2,1464.7 850.0,1470.5" stroke="#009999"/>
<path d="M84.0,1452.0 98.1,1431.7 110.2,1415.1 122.6,1396.2 135.9,1375.0 148.4,1354.3 158.2,1337.5 164.4,1325.8 168.6,1316.8 176.1,1298.8 198.4,1246.4 209.7,1219.0 221.1,1190.1 244.1,1128.5 251.0,1111.4 257.6,1096.0 267.3,1075.7 279.3,1052.1 289.7,1032.8 311.4,993.4 326.4,965.7 329.1,961.3 331.7,957.4 334.4,954.0 337.2,950.9 340.3,947.9 343.5,945.2 347.0,942.7 350.7,940.4 355.4,937.9 360.3,935.7 365.4,933.7 370.3,932.2 375.1,931.0 379.9,930.2 384.6,929.7 389.1,929.6 393.1,929.8 397.1,930.6 400.9,931.6 404.8,933.2 408.4,935.1 412.4,937.6 416.5,940.6 421.0,944.2 427.3,949.7 433.2,955.2 439.0,961.1 444.6,967.0 450.1,973.3 455.7,980.3 467.2,995.5 476.4,1008.7 486.6,1023.9 497.8,1041.4 510.3,1061.4 538.3,1107.6 611.0,1229.1 631.2,1262.0 648.1,1289.0 663.5,1312.6 678.0,1333.5 695.2,1357.1 713.7,1381.3 724.1,1393.8 734.0,1404.7 743.8,1414.4 754.5,1423.9 766.8,1433.7 780.8,1444.0 797.1,1455.2 820.2,1470.5" stroke="#ffff00"/>
<path d="M85.0,1470.0 103.3,1459.4 119.3,1449.2 134.4,1438.6 141.4,1433.2 148.1,1427.7 154.7,1422.0 160.9,1416.2 167.1,1410.2 172.8,1404.2 178.5,1397.9 184.0,1391.4 195.3,1377.0 202.2,1367.4 209.3,1357.0 216.5,1345.8 223.8,1334.0 238.4,1308.9 263.9,1263.3 273.6,1245.2 283.1,1226.9 329.6,1134.2 356.0,1082.3 369.6,1056.0 380.0,1036.3 389.1,1019.9 397.6,1005.4 405.4,993.0 410.3,985.6 415.2,978.8 420.0,972.6 425.0,966.6 429.8,961.3 434.8,956.2 440.0,951.4 445.7,946.7 451.8,942.1 457.5,938.2 462.8,935.0 468.1,932.3 473.2,930.2 478.1,928.8 482.9,927.9 487.5,927.6 491.7,927.9 495.9,928.6 500.1,929.7 504.6,931.4 509.0,933.5 513.6,936.0 518.5,939.1 523.5,942.7 528.6,946.7 533.6,951.0 538.4,955.5 543.1,960.3 547.9,965.5 552.6,971.1 562.5,984.1 574.0,1000.6 586.5,1020.3 600.0,1042.7 613.7,1066.8 625.1,1087.9 636.2,1109.3 647.6,1132.0 679.3,1196.7 690.2,1218.1 701.2,1238.9 715.0,1264.4 728.3,1287.8 740.4,1308.2 751.7,1326.1 764.5,1344.7 778.2,1363.1 793.4,1382.0 809.0,1399.9 823.4,1415.3 838.9,1430.8 856.7,1447.6 882.0,1470.5" stroke="#00ffff"/>
<path d="M85.0,1470.0 122.3,1415.3 145.4,1380.5 154.0,1367.0 160.7,1356.1 165.7,1347.3 169.7,1339.6 174.1,1329.7 181.8,1309.5 187.3,1295.7 214.6,1231.0 226.5,1202.2 236.5,1176.9 260.1,1115.3 267.4,1097.2 274.2,1080.7 286.0,1053.7 297.8,1028.5 309.2,1005.5 319.7,986.2 324.2,978.6 328.4,971.9 332.3,966.1 336.4,960.8 340.6,955.8 344.8,951.3 349.3,947.1 354.2,942.9 359.8,938.7 365.4,935.0 370.9,931.8 376.3,929.2 381.4,927.3 386.6,925.8 391.5,924.9 396.3,924.7 401.4,925.0 406.4,926.0 411.6,927.8 416.7,930.0 422.3,933.1 427.9,936.9 433.8,941.4 439.9,946.6 445.3,951.7 450.6,957.1 455.9,963.1 461.3,969.6 467.0,976.9 473.6,985.8 488.5,1007.3 503.3,1029.9 518.3,1054.1 533.2,1079.0 547.0,1103.3 565.5,1137.5 598.1,1199.6 620.5,1240.9 652.9,1303.4 662.1,1320.3 670.5,1334.8 682.4,1354.3 695.3,1373.7 707.6,1391.4 737.5,1432.8 748.3,1448.6 762.9,1470.5" stroke="#cc00cc"/>
<path d="M85.0,1470.0 88.8,1465.4 91.9,1461.1 95.4,1455.7 99.7,1448.4 123.2,1406.5 164.3,1334.8 171.4,1321.9 177.0,1310.4 185.7,1290.8 196.7,1265.0 208.0,1237.8 218.7,1211.4 232.5,1175.5 261.9,1096.1 270.5,1073.8 279.3,1051.7 289.0,1028.5 298.1,1007.7 306.4,989.6 313.6,975.2 319.6,964.5 322.4,960.2 325.3,956.1 328.3,952.4 331.3,949.1 334.7,945.8 338.1,942.9 342.0,940.0 346.1,937.3 350.0,935.1 354.1,933.3 358.2,931.8 362.1,930.8 365.9,930.2 369.5,930.0 372.7,930.2 375.8,930.6 378.9,931.3 382.3,932.4 385.7,933.8 388.9,935.4 392.4,937.4 395.8,939.7 402.8,945.1 409.8,951.7 416.5,959.2 423.0,967.7 429.0,976.3 435.5,986.5 443.0,999.0 451.1,1013.1 461.1,1031.0 472.3,1051.5 512.2,1126.8 527.1,1154.4 536.3,1170.6 545.0,1185.2 553.6,1199.3 562.4,1212.9 576.6,1233.8 592.1,1255.6 608.8,1277.9 626.3,1300.3 643.6,1321.5 658.3,1338.6 671.9,1353.4 684.8,1366.3 695.3,1375.8 705.5,1384.1 716.5,1392.3 728.9,1400.7 744.2,1410.1 762.8,1420.7 775.0,1426.9 787.2,1432.3 803.0,1438.3 823.6,1445.4 851.8,1454.3 869.9,1459.4 880.8,1461.9 894.5,1464.3 912.3,1467.0 938.8,1470.5" stroke="#003399"/>
<path d="M85.0,1470.0 89.6,1462.6 92.6,1457.1 95.1,1452.0 97.0,1447.2 99.1,1440.3 103.8,1420.8 107.1,1409.8 114.0,1390.4 131.2,1346.4 136.7,1331.4 139.3,1322.9 144.5,1303.6 149.7,1287.2 178.6,1200.2 200.7,1131.4 209.6,1104.4 217.9,1080.7 226.5,1057.0 235.5,1033.7 244.1,1012.5 253.6,990.4 261.7,973.4 265.2,967.0 268.5,961.3 271.9,956.2 275.3,951.7 279.5,946.8 283.8,942.5 288.2,938.7 292.6,935.6 297.0,933.2 301.4,931.4 305.7,930.4 309.7,930.0 312.7,930.2 315.7,930.8 318.6,931.6 321.8,932.9 324.9,934.5 328.2,936.5 331.4,938.8 334.5,941.3 340.5,947.1 346.1,953.7 351.5,961.4 357.2,971.1 364.8,985.6 374.2,1004.9 383.9,1025.9 393.4,1047.6 403.0,1070.5 412.1,1093.5 420.6,1116.0 439.6,1167.9 449.1,1192.1 452.8,1200.6 456.7,1209.0 469.0,1233.3 473.1,1241.9 477.7,1252.6 487.2,1276.5 492.3,1288.8 498.7,1303.0 505.3,1316.6 516.3,1337.3 531.3,1363.4 544.5,1385.2 556.8,1404.1 567.5,1419.3 578.4,1433.6 591.1,1449.1 609.6,1470.5" stroke="#cc0066"/>
<path d="M85.0,1470.0 107.6,1427.7 121.5,1400.7 141.0,1360.8 149.5,1342.7 155.7,1328.9 161.1,1315.9 172.2,1287.2 197.1,1222.4 226.2,1145.2 241.1,1107.4 252.5,1080.4 264.6,1053.3 276.6,1027.7 288.1,1005.0 298.9,985.1 303.7,977.0 308.1,970.0 312.3,964.0 316.6,958.5 320.7,953.6 325.1,949.1 330.2,944.5 335.7,940.2 341.3,936.5 346.6,933.5 351.8,931.3 357.1,929.6 362.2,928.6 367.4,928.2 372.1,928.5 377.1,929.4 382.3,930.8 387.6,932.8 393.0,935.4 398.7,938.5 404.4,942.1 410.5,946.4 416.0,950.7 421.1,955.0 426.1,959.7 431.3,965.0 436.5,970.7 441.8,977.0 453.5,992.0 466.3,1009.9 480.8,1031.3 496.5,1055.6 513.2,1082.4 526.8,1104.9 541.3,1129.7 586.8,1209.1 602.4,1236.0 618.4,1262.6 632.9,1285.5 647.1,1306.8 661.3,1326.4 673.5,1342.3 715.8,1396.3 723.4,1405.1 731.1,1413.0 739.3,1420.3 749.2,1428.3 760.8,1436.9 774.2,1446.1 790.0,1456.4 812.5,1470.5" stroke="#808000"/>
<path d="M85.0,1470.0 116.8,1448.3 130.1,1438.9 143.3,1428.7 155.8,1418.0 162.3,1411.9 168.5,1405.8 174.5,1399.5 180.5,1392.8 186.4,1385.9 192.4,1378.4 204.7,1361.8 211.4,1352.2 218.0,1342.2 231.5,1320.6 247.4,1293.3 266.2,1259.7 283.3,1228.0 297.8,1199.6 308.7,1177.4 335.7,1119.9 344.5,1102.2 353.1,1085.5 365.3,1063.1 379.5,1038.0 395.5,1010.8 414.8,978.9 423.0,965.8 429.7,956.3 436.1,948.5 442.8,941.6 446.5,938.4 450.2,935.5 453.9,933.1 457.2,931.2 460.7,929.6 464.1,928.5 467.2,927.9 470.3,927.6 474.2,928.0 478.0,929.0 481.9,930.8 485.8,933.2 489.7,936.2 494.0,940.2 498.4,945.0 502.8,950.5 508.4,958.2 514.5,967.8 546.4,1021.9 567.4,1056.2 584.9,1083.3 602.1,1108.1 612.3,1122.3 623.5,1137.1 635.4,1152.4 647.9,1168.0 662.3,1185.6 678.4,1204.9 714.6,1247.2 745.0,1281.7 772.4,1311.9 794.3,1335.2 814.9,1356.0 838.7,1378.7 867.0,1404.6 898.8,1432.7 941.8,1470.0" stroke="#99ccff"/>
<path d="M84.0,1458.0 87.6,1455.9 90.3,1454.1 93.2,1451.8 96.2,1449.0 103.4,1441.2 111.7,1430.7 120.7,1418.3 130.3,1403.8 141.2,1386.4 152.4,1367.5 163.2,1348.4 171.8,1332.1 175.9,1323.6 186.8,1299.5 200.9,1270.5 257.8,1156.2 268.4,1135.5 278.0,1117.1 294.0,1088.1 311.3,1058.6 330.0,1028.5 339.6,1013.8 348.5,1000.5 362.7,980.4 368.4,972.9 373.7,966.4 378.6,960.8 383.4,956.0 388.3,951.5 393.5,947.3 399.8,942.9 406.7,938.8 413.5,935.4 420.2,932.5 427.1,930.2 433.7,928.7 439.9,927.8 446.0,927.5 450.5,927.8 454.9,928.4 459.2,929.3 463.8,930.6 468.4,932.3 473.2,934.4 477.9,936.8 482.8,939.6 487.9,942.8 493.1,946.5 498.0,950.3 502.9,954.4 512.0,963.1 522.0,973.8 529.6,982.9 538.2,993.6 548.2,1006.4 559.4,1021.4 578.1,1046.9 631.7,1121.5 667.9,1171.3 706.5,1223.4 734.3,1260.0 746.0,1274.9 757.1,1288.5 767.1,1300.4 776.3,1311.0 785.2,1320.7 794.3,1330.0 802.9,1338.3 811.8,1346.4 821.2,1354.4 831.2,1362.4 842.3,1370.8 855.3,1380.1 908.7,1416.6 916.8,1421.7 925.4,1426.3 934.6,1430.6 945.5,1435.4 957.4,1440.3 969.5,1445.0 986.4,1450.9 1015.6,1460.0 1036.2,1467.6 1041.9,1469.2 1047.4,1470.1 1053.9,1470.5 1062.4,1470.5" stroke="#cc9900"/>
<path d="M85.0,1470.0 94.8,1426.9 103.8,1385.6 112.7,1342.7 119.5,1306.3 124.2,1283.6 134.7,1235.1 148.3,1174.0 155.5,1143.6 162.2,1117.7 169.2,1093.6 176.9,1069.2 182.5,1052.8 188.1,1037.1 193.9,1022.0 199.6,1008.1 205.1,995.5 210.3,984.5 215.4,974.8 220.2,966.5 225.5,958.6 231.0,951.4 237.1,944.7 243.1,939.2 248.5,935.2 253.7,932.3 256.3,931.3 258.8,930.6 261.3,930.2 263.6,930.0 266.6,930.3 269.9,930.9 273.1,932.0 276.3,933.5 279.8,935.5 283.1,937.7 286.5,940.4 290.1,943.5 293.2,946.7 296.3,950.1 302.2,957.7 307.8,966.6 314.0,977.8 321.7,993.4 330.5,1012.3 340.1,1034.0 350.3,1058.0 359.3,1080.1 368.3,1102.7 402.6,1192.6 420.1,1236.7 434.0,1270.6 448.9,1305.8 461.5,1334.8 471.4,1356.7 478.2,1370.8 484.4,1382.8 490.5,1393.5 497.0,1404.1 504.7,1415.6 514.6,1429.7 544.6,1470.5" stroke="#99cc00"/>
</g>
<rect x="85" y="819.8" width="988.5" height="650.9000000000001" fill="none" stroke="#000" stroke-width="2.2"/>
<line x1="1097.3" y1="838.2" x2="1155.6" y2="838.2" stroke="#99ff66" stroke-width="4.5" stroke-linecap="round"/>
<line x1="1097.3" y1="879.6" x2="1155.6" y2="879.6" stroke="#ff6600" stroke-width="4.5" stroke-linecap="round"/>
<line x1="1097.3" y1="921.0" x2="1155.6" y2="921.0" stroke="#00b050" stroke-width="4.5" stroke-linecap="round"/>
<line x1="1097.3" y1="962.3" x2="1155.6" y2="962.3" stroke="#ff33cc" stroke-width="4.5" stroke-linecap="round"/>
<line x1="1097.3" y1="1003.7" x2="1155.6" y2="1003.7" stroke="#ff3300" stroke-width="4.5" stroke-linecap="round"/>
<line x1="1097.3" y1="1045.0" x2="1155.6" y2="1045.0" stroke="#ff99ff" stroke-width="4.5" stroke-linecap="round"/>
<line x1="1097.3" y1="1086.4" x2="1155.6" y2="1086.4" stroke="#009999" stroke-width="4.5" stroke-linecap="round"/>
<line x1="1097.3" y1="1127.8" x2="1155.6" y2="1127.8" stroke="#ffff00" stroke-width="4.5" stroke-linecap="round"/>
<line x1="1097.3" y1="1169.1" x2="1155.6" y2="1169.1" stroke="#00ffff" stroke-width="4.5" stroke-linecap="round"/>
<line x1="1097.3" y1="1210.5" x2="1155.6" y2="1210.5" stroke="#cc00cc" stroke-width="4.5" stroke-linecap="round"/>
<line x1="1097.3" y1="1251.8" x2="1155.6" y2="1251.8" stroke="#003399" stroke-width="4.5" stroke-linecap="round"/>
<line x1="1097.3" y1="1293.2" x2="1155.6" y2="1293.2" stroke="#cc0066" stroke-width="4.5" stroke-linecap="round"/>
<line x1="1097.3" y1="1334.6" x2="1155.6" y2="1334.6" stroke="#808000" stroke-width="4.5" stroke-linecap="round"/>
<line x1="1097.3" y1="1375.9" x2="1155.6" y2="1375.9" stroke="#99ccff" stroke-width="4.5" stroke-linecap="round"/>
<line x1="1097.3" y1="1417.3" x2="1155.6" y2="1417.3" stroke="#cc9900" stroke-width="4.5" stroke-linecap="round"/>
<line x1="1097.3" y1="1458.7" x2="1155.6" y2="1458.7" stroke="#99cc00" stroke-width="4.5" stroke-linecap="round"/>
<clipPath id="cc"><rect x="81.5" y="1671.6" width="992.7" height="660.5999999999999"/></clipPath>
<g clip-path="url(#cc)" fill="none" stroke-width="4.3" stroke-linecap="round" stroke-linejoin="round">
<path d="M82.0,2331.0 100.0,2315.5 112.8,2303.8 123.5,2292.9 128.1,2287.8 132.3,2282.7 136.0,2277.9 139.4,2273.0 142.9,2267.6 146.0,2262.2 152.0,2250.3 158.3,2235.7 171.6,2202.3 178.3,2184.8 184.1,2168.8 189.2,2153.3 193.4,2139.4 197.8,2123.5 213.0,2066.2 220.7,2038.0 252.2,1924.8 258.0,1904.9 264.1,1885.1 269.8,1868.8 275.5,1854.8 281.3,1842.5 284.8,1836.1 288.6,1830.2 292.4,1824.7 296.8,1819.3 301.4,1814.4 306.2,1809.9 311.3,1805.8 316.6,1802.1 323.0,1798.2 329.3,1794.9 335.9,1792.0 342.6,1789.5 349.4,1787.5 355.9,1786.1 362.3,1785.3 368.3,1785.0 374.1,1785.3 380.2,1786.1 386.6,1787.6 392.9,1789.6 399.6,1792.1 406.5,1795.3 415.0,1799.6 424.4,1804.7 431.9,1809.2 439.1,1813.9 446.0,1818.7 452.4,1823.8 458.5,1828.9 464.5,1834.5 470.1,1840.3 475.6,1846.5 484.8,1857.7 494.5,1871.1 504.4,1886.1 514.8,1903.1 524.8,1920.2 536.2,1940.8 579.5,2021.1 594.4,2048.1 601.6,2060.6 608.1,2071.3 614.3,2080.9 620.7,2090.1 627.0,2098.7 634.0,2107.8 651.2,2128.7 672.1,2153.0 694.2,2177.4 709.1,2192.9 722.6,2206.1 736.1,2218.1 750.1,2229.5 765.0,2240.6 780.8,2251.5 797.4,2261.9 814.1,2271.5 828.8,2279.3 843.1,2285.9 857.6,2291.7 872.6,2296.9 887.8,2301.4 905.0,2305.7 924.4,2309.9 945.8,2313.9 969.9,2317.9 996.7,2322.0 1027.7,2326.3 1071.0,2332.0" stroke="#99ff66"/>
<path d="M82.0,2331.0 83.3,2302.1 84.4,2281.2 85.8,2261.2 87.6,2239.8 90.8,2207.8 100.2,2119.8 102.7,2097.0 104.9,2079.5 107.7,2060.4 111.1,2039.3 115.3,2015.4 120.1,1990.5 125.2,1965.1 130.4,1940.9 135.1,1920.2 139.6,1902.0 143.5,1887.9 147.3,1875.1 151.1,1864.0 154.9,1853.8 158.9,1844.8 162.9,1836.7 167.4,1829.0 172.2,1821.9 178.1,1814.4 184.6,1807.4 191.7,1800.9 199.2,1795.2 206.4,1790.6 212.9,1787.4 216.0,1786.3 219.0,1785.5 221.8,1785.0 224.6,1784.8 228.9,1785.3 232.9,1786.6 236.7,1788.9 240.7,1792.3 245.0,1797.2 249.7,1803.4 254.1,1810.4 258.1,1817.9 261.7,1825.5 265.3,1834.2 269.0,1844.3 272.8,1855.4 276.9,1868.7 281.5,1884.3 285.8,1900.0 289.8,1915.4 293.4,1930.4 296.8,1945.6 300.0,1961.0 303.2,1977.8 308.0,2004.3 319.7,2073.4 334.8,2158.6 339.1,2185.0 361.3,2331.5" stroke="#ff6600"/>
<path d="M82.0,2331.0 89.2,2286.0 99.5,2223.9 104.7,2191.5 113.8,2132.1 126.1,2047.9 130.1,2022.0 134.2,1998.0 139.9,1966.9 145.5,1940.6 151.7,1915.4 158.8,1890.1 163.8,1874.0 169.4,1856.7 173.7,1844.6 177.5,1834.9 181.3,1826.2 185.0,1818.9 189.0,1812.3 193.2,1806.8 197.9,1801.6 203.1,1797.2 209.0,1793.3 215.7,1790.0 223.2,1787.1 230.6,1785.2 237.3,1784.2 245.5,1783.9 256.1,1784.2 268.2,1785.2 280.9,1786.9 294.0,1789.2 304.0,1791.3 312.0,1793.4 318.9,1796.0 325.4,1799.1 332.0,1803.1 338.5,1807.9 344.8,1813.4 351.3,1819.9 358.0,1827.4 364.6,1835.7 371.4,1845.0 378.8,1855.9 385.7,1866.7 392.8,1878.5 400.5,1891.7 408.3,1905.7 417.1,1921.9 425.2,1937.5 432.9,1952.9 439.9,1967.4 447.2,1983.1 454.0,1998.8 479.1,2059.6 491.7,2088.6 572.0,2264.4 586.1,2294.6 603.8,2331.5" stroke="#00b050"/>
<path d="M82.0,2331.0 102.3,2316.9 116.3,2306.7 128.2,2297.1 138.4,2287.8 142.8,2283.4 146.9,2278.9 150.4,2274.7 154.0,2270.0 157.2,2265.2 160.5,2260.0 163.7,2254.3 166.6,2248.5 170.1,2241.2 173.6,2232.9 183.5,2207.6 198.1,2168.4 211.4,2131.1 217.1,2114.1 222.5,2097.2 240.9,2035.5 249.1,2009.4 257.9,1982.7 266.6,1958.9 272.2,1944.4 277.9,1930.6 284.2,1916.3 290.3,1902.9 296.6,1890.0 303.1,1877.5 309.5,1865.6 315.8,1854.9 321.4,1845.9 326.6,1838.0 331.9,1830.7 337.1,1824.1 342.4,1818.1 347.4,1812.9 353.0,1808.0 358.4,1803.7 364.7,1799.3 371.1,1795.7 377.7,1792.4 384.1,1789.8 390.8,1787.7 397.2,1786.3 403.7,1785.3 410.3,1785.0 414.6,1785.2 418.8,1785.5 423.1,1786.2 427.3,1787.0 435.5,1789.5 439.8,1791.2 443.5,1792.9 447.2,1794.9 450.7,1797.0 456.7,1801.6 459.6,1804.3 462.3,1807.1 467.6,1813.6 472.3,1820.5 477.9,1829.7 534.4,1929.2 565.6,1985.5 611.7,2070.8 618.4,2082.7 624.8,2093.1 632.3,2104.2 641.2,2116.5 651.8,2130.0 664.1,2145.0 678.4,2161.8 693.6,2178.9 706.7,2193.0 718.9,2205.5 731.3,2217.4 743.9,2228.8 756.8,2239.6 769.7,2249.7 782.5,2259.0 795.0,2267.4 807.3,2274.8 820.2,2281.9 832.4,2288.0 845.5,2293.8 859.6,2299.5 874.9,2305.2 891.4,2310.8 910.6,2316.9 932.0,2323.3 962.0,2332.0" stroke="#ff33cc"/>
<path d="M82.0,2331.5 122.9,2318.1 134.7,2313.9 141.3,2311.2 147.1,2308.5 152.8,2305.5 157.9,2302.3 164.1,2298.1 170.1,2293.3 175.9,2288.0 181.5,2282.3 187.0,2276.0 192.3,2269.2 197.7,2261.6 203.0,2253.5 208.3,2244.7 213.6,2235.1 218.9,2225.0 224.4,2213.8 229.6,2202.6 234.6,2191.0 239.7,2178.4 244.8,2165.4 252.6,2143.7 260.2,2121.2 266.1,2102.4 280.9,2053.5 290.3,2023.4 300.9,1990.8 311.0,1961.0 322.5,1929.2 333.6,1900.2 344.3,1874.3 354.3,1852.1 362.9,1835.0 366.8,1827.9 370.5,1821.8 374.2,1816.2 377.8,1811.4 381.6,1806.9 385.3,1803.1 389.9,1799.1 394.5,1795.7 399.6,1792.4 404.6,1789.8 409.8,1787.7 414.6,1786.3 419.5,1785.4 424.4,1785.1 427.7,1785.2 431.4,1785.6 435.0,1786.4 438.6,1787.4 442.1,1788.7 446.0,1790.4 449.9,1792.4 453.6,1794.7 461.2,1800.1 468.6,1806.6 475.7,1813.9 482.7,1822.3 489.3,1831.3 496.0,1841.5 503.7,1853.9 512.0,1868.1 528.3,1897.6 571.1,1978.4 594.6,2021.8 605.9,2041.7 615.5,2058.2 623.6,2071.2 630.9,2082.2 639.9,2094.4 650.1,2107.0 662.7,2121.3 677.6,2137.0 695.2,2154.6 713.7,2172.2 730.6,2187.6 746.2,2200.8 760.9,2212.4 774.8,2222.4 789.9,2232.3 806.2,2242.1 826.4,2253.3 846.4,2263.6 861.5,2270.5 877.3,2276.6 887.8,2280.2 899.5,2283.9 924.9,2291.4 949.7,2297.7 977.0,2303.9 1005.6,2309.7 1030.2,2313.9 1052.5,2316.8 1076.0,2319.0" stroke="#ff3300"/>
<path d="M82.0,2331.0 96.0,2314.5 106.1,2302.0 114.4,2290.8 121.4,2280.4 127.6,2269.8 133.3,2258.6 138.6,2246.5 144.1,2232.3 150.6,2213.8 158.0,2191.3 171.5,2148.4 178.0,2126.6 180.8,2115.9 183.2,2106.1 192.9,2060.8 199.3,2033.8 204.2,2015.3 209.7,1995.2 222.4,1951.5 233.9,1914.9 239.0,1899.4 243.9,1885.5 248.6,1872.7 253.2,1861.1 257.7,1850.7 262.0,1841.5 266.0,1833.8 270.1,1826.8 274.1,1820.8 278.0,1815.5 282.2,1810.8 286.7,1806.4 291.5,1802.5 296.4,1799.2 301.9,1796.0 308.2,1793.1 314.8,1790.6 321.8,1788.6 329.1,1787.0 336.7,1785.9 344.5,1785.2 352.5,1785.0 360.6,1785.2 368.8,1785.9 377.1,1787.1 385.3,1788.6 393.4,1790.5 401.7,1792.9 409.4,1795.5 416.7,1798.5 423.4,1801.6 429.6,1805.0 435.7,1808.7 441.4,1812.8 447.0,1817.2 452.4,1822.0 457.7,1827.3 462.9,1833.0 467.5,1838.5 472.3,1844.8 482.1,1858.6 492.5,1874.9 503.7,1894.2 517.0,1918.6 532.1,1947.9 550.0,1984.1 586.3,2058.5 594.5,2074.8 601.8,2088.8 614.5,2111.3 628.3,2134.2 641.7,2154.9 654.6,2173.3 663.6,2185.3 672.8,2196.8 682.6,2208.4 693.3,2220.5 704.6,2232.7 716.5,2245.0 728.4,2256.8 740.0,2267.6 749.7,2276.3 759.3,2284.4 768.6,2291.9 778.4,2299.2 788.1,2306.1 798.8,2313.3 828.2,2332.0" stroke="#ff99ff"/>
<path d="M82.0,2331.0 100.2,2318.3 113.1,2308.7 124.0,2299.9 133.4,2291.4 141.1,2283.3 144.6,2279.2 147.6,2275.3 150.6,2271.0 153.3,2266.6 158.4,2257.2 162.0,2249.2 165.8,2239.5 187.8,2177.9 193.1,2161.9 202.5,2131.0 206.6,2118.0 211.2,2105.3 223.3,2074.2 229.0,2058.2 234.3,2042.0 249.7,1992.1 254.9,1976.3 260.3,1961.6 264.4,1950.9 268.6,1940.9 273.4,1930.3 278.4,1919.8 283.9,1908.9 289.5,1898.3 295.6,1887.4 301.8,1876.9 309.0,1865.3 316.4,1854.1 323.6,1843.7 330.9,1833.9 337.1,1826.2 343.3,1819.2 349.2,1813.2 355.0,1808.1 361.6,1802.9 368.6,1798.3 375.7,1794.4 383.1,1791.0 390.3,1788.4 397.6,1786.5 404.7,1785.4 411.7,1785.0 416.9,1785.3 422.0,1785.9 427.0,1787.0 432.3,1788.5 437.6,1790.4 442.6,1792.7 447.9,1795.5 453.0,1798.6 457.9,1802.0 462.5,1805.6 467.0,1809.6 471.4,1813.9 475.7,1818.5 479.9,1823.5 484.1,1828.9 488.6,1835.2 496.2,1847.0 504.3,1860.7 513.1,1876.7 522.8,1895.6 531.8,1913.7 541.9,1934.8 580.6,2017.6 593.7,2045.3 605.0,2068.2 614.3,2085.4 621.5,2097.6 629.4,2110.1 638.4,2123.5 647.9,2137.0 657.4,2149.7 666.9,2161.8 676.3,2173.0 685.8,2183.8 698.1,2196.8 711.6,2210.3 727.1,2224.9 743.2,2239.3 759.5,2253.1 775.2,2265.8 789.8,2276.9 802.5,2285.8 812.4,2292.0 822.4,2297.7 832.7,2302.9 844.0,2308.0 856.5,2313.1 870.9,2318.6 887.3,2324.3 910.0,2332.0" stroke="#009999"/>
<path d="M82.0,2331.5 100.5,2325.8 107.7,2323.2 114.3,2320.5 120.5,2317.6 126.7,2314.2 132.5,2310.6 138.6,2306.4 145.0,2301.5 151.2,2296.2 157.3,2290.5 162.7,2284.8 167.9,2278.9 172.8,2272.7 177.6,2265.9 182.4,2258.5 187.1,2250.5 191.7,2241.9 196.5,2232.4 201.8,2221.2 207.6,2208.3 213.1,2195.4 218.5,2182.1 223.6,2168.8 228.9,2154.2 234.5,2138.0 247.9,2097.0 257.4,2066.2 271.4,2018.1 277.7,1997.1 284.6,1975.3 291.3,1955.6 300.7,1930.0 311.1,1904.3 322.3,1878.8 333.9,1854.5 344.4,1834.2 348.5,1827.0 352.4,1820.8 356.1,1815.4 360.1,1810.5 364.0,1806.3 368.2,1802.4 373.2,1798.7 378.9,1795.1 385.1,1792.0 391.2,1789.6 397.6,1787.6 404.1,1786.2 410.7,1785.3 417.4,1785.0 421.5,1785.1 426.1,1785.5 430.1,1786.1 434.5,1787.0 438.4,1788.1 442.7,1789.5 446.7,1791.1 450.7,1792.9 454.5,1795.0 457.7,1797.0 460.9,1799.2 464.1,1801.8 467.1,1804.6 470.0,1807.6 475.6,1814.4 481.6,1823.3 488.7,1835.4 506.2,1866.5 524.7,1900.5 540.1,1929.2 554.5,1956.9 606.7,2059.3 615.6,2075.7 623.5,2088.8 631.6,2100.5 641.2,2113.0 653.8,2128.3 670.0,2146.9 698.2,2178.5 710.5,2191.9 723.3,2204.7 729.2,2210.2 735.5,2215.6 747.6,2225.1 762.2,2235.3 779.0,2246.0 799.0,2257.8 831.9,2276.3 848.4,2285.1 856.5,2288.9 864.3,2292.5 872.1,2295.6 880.3,2298.6 894.2,2303.0 910.3,2307.3 928.5,2311.3 949.7,2315.3 972.2,2319.0 998.2,2322.8 1028.5,2326.8 1070.0,2332.0" stroke="#ffff00"/>
<path d="M82.0,2331.0 99.3,2311.3 111.3,2297.0 121.8,2283.6 130.5,2271.3 139.0,2257.6 146.8,2243.3 153.7,2228.8 160.1,2213.3 164.5,2200.8 169.1,2186.6 173.9,2170.1 180.3,2147.3 188.4,2116.6 203.3,2057.3 213.7,2017.0 234.5,1938.4 243.3,1906.7 249.9,1885.0 256.2,1866.8 262.4,1851.2 265.4,1844.4 268.6,1838.1 272.6,1831.1 276.5,1825.0 280.7,1819.5 285.1,1814.4 289.9,1809.8 295.0,1805.6 300.2,1802.0 306.1,1798.6 312.9,1795.3 320.2,1792.4 327.8,1789.9 336.1,1787.7 344.7,1786.0 353.1,1784.9 361.6,1784.2 370.1,1784.0 377.2,1784.2 384.7,1784.7 392.2,1785.6 399.0,1786.8 406.1,1788.4 412.5,1790.2 419.1,1792.5 425.0,1794.9 430.2,1797.4 435.1,1800.2 439.7,1803.2 444.3,1806.7 448.5,1810.5 452.6,1814.7 456.8,1819.4 460.9,1824.6 465.1,1830.5 469.7,1837.3 481.0,1855.2 493.7,1876.7 507.5,1901.4 520.3,1925.3 534.0,1951.5 573.3,2029.3 584.3,2050.8 595.1,2070.7 606.7,2091.0 619.8,2112.8 629.7,2128.8 638.7,2142.9 647.4,2155.7 655.5,2167.0 663.9,2177.8 672.8,2188.6 682.6,2199.6 693.0,2210.7 704.2,2222.0 716.1,2233.4 728.2,2244.5 740.2,2254.9 751.8,2264.5 763.2,2273.4 774.2,2281.4 783.8,2287.9 793.3,2293.9 803.1,2299.7 813.3,2305.2 824.3,2310.8 836.9,2316.8 871.0,2332.0" stroke="#00ffff"/>
<path d="M82.0,2331.0 102.0,2316.3 116.3,2305.1 128.1,2295.0 133.5,2289.9 138.2,2285.1 142.7,2280.3 146.6,2275.7 150.2,2271.0 153.7,2265.8 157.1,2260.6 160.4,2254.9 163.6,2248.7 166.6,2242.5 169.9,2235.0 173.2,2226.7 180.7,2205.9 212.1,2109.7 218.3,2089.9 224.3,2070.2 241.1,2011.6 248.4,1986.6 255.9,1962.6 263.3,1940.6 268.3,1926.6 273.2,1913.4 278.1,1901.0 282.9,1889.6 287.9,1878.5 292.9,1867.9 297.8,1858.4 302.5,1849.9 307.4,1842.1 312.2,1834.8 316.9,1828.5 322.0,1822.5 327.2,1817.0 332.6,1811.9 338.2,1807.3 344.3,1802.9 351.1,1798.6 358.2,1794.8 365.3,1791.6 372.5,1788.8 379.6,1786.7 386.8,1785.2 393.7,1784.3 400.6,1784.0 405.5,1784.2 410.5,1784.7 415.4,1785.4 420.2,1786.5 425.0,1787.8 430.0,1789.4 434.5,1791.3 439.2,1793.5 443.3,1795.7 447.3,1798.2 451.0,1800.9 454.4,1803.7 457.7,1806.7 461.0,1810.2 464.2,1814.0 467.5,1818.3 471.5,1823.9 476.1,1831.1 492.0,1857.1 513.5,1893.3 535.0,1930.5 552.7,1961.8 571.2,1995.5 617.3,2081.3 624.3,2093.7 631.2,2105.1 639.6,2118.1 648.4,2130.9 657.5,2143.4 666.4,2155.0 675.1,2165.5 683.9,2175.6 693.0,2185.2 702.9,2195.2 716.4,2207.8 731.5,2221.1 747.3,2234.2 762.3,2246.0 776.1,2256.0 789.3,2264.9 802.2,2272.8 815.2,2280.0 828.6,2286.6 842.3,2292.7 857.1,2298.6 873.0,2304.4 890.3,2310.1 910.4,2316.4 933.3,2323.1 965.0,2332.0" stroke="#cc00cc"/>
<path d="M82.0,2331.0 99.6,2318.2 111.9,2308.8 122.4,2299.9 131.1,2291.4 135.1,2287.1 138.5,2283.1 141.7,2279.1 144.2,2275.3 146.8,2271.1 149.2,2266.8 153.6,2257.1 157.4,2246.8 166.5,2219.8 170.3,2209.9 182.0,2181.1 185.4,2171.7 187.9,2163.5 190.2,2154.8 192.3,2145.2 197.8,2114.4 200.1,2102.9 202.8,2090.4 206.2,2076.5 216.3,2037.7 226.3,2000.5 235.7,1967.1 244.6,1937.0 252.7,1911.9 256.5,1901.1 260.3,1891.2 264.0,1882.2 267.8,1873.6 271.9,1865.3 275.9,1858.0 280.4,1850.6 284.9,1844.2 289.5,1838.3 294.5,1832.9 300.0,1827.5 306.1,1822.3 312.5,1817.6 319.9,1812.8 329.6,1807.1 341.7,1800.8 355.4,1794.1 366.0,1789.6 374.4,1786.7 381.9,1784.7 389.5,1783.5 396.7,1783.0 401.7,1783.2 407.2,1783.9 412.6,1784.9 418.1,1786.3 423.5,1788.0 429.2,1790.2 434.8,1792.8 440.7,1795.8 446.3,1799.1 451.7,1802.6 456.8,1806.4 461.4,1810.1 465.8,1814.1 470.4,1818.7 474.6,1823.2 479.0,1828.6 485.1,1836.5 491.5,1845.8 498.3,1856.5 506.0,1869.4 520.9,1896.3 557.8,1965.3 580.7,2006.5 597.2,2035.5 612.4,2061.4 621.9,2077.0 630.1,2089.5 640.4,2103.8 652.5,2119.4 665.9,2135.4 680.2,2151.5 693.7,2165.8 707.0,2178.9 720.8,2191.7 735.3,2204.2 753.5,2218.8 773.1,2233.6 791.6,2246.6 809.3,2257.9 826.3,2268.0 843.2,2277.0 861.5,2285.7 880.4,2293.7 898.1,2300.3 906.1,2303.0 914.5,2305.5 938.3,2311.6 968.2,2318.5 988.7,2322.7 1012.2,2326.7 1032.4,2329.5 1055.0,2332.0" stroke="#003399"/>
<path d="M82.0,2331.0 98.6,2315.8 110.4,2304.4 120.4,2293.8 128.6,2284.0 132.3,2279.0 135.6,2274.3 141.6,2264.3 147.3,2252.8 152.7,2240.0 161.0,2217.6 171.2,2188.0 178.8,2164.3 185.8,2140.6 191.1,2121.5 196.3,2101.5 214.4,2027.6 223.0,1993.9 231.9,1961.1 240.6,1931.4 249.1,1905.1 257.3,1882.4 261.3,1872.1 265.5,1862.4 269.5,1853.6 273.4,1845.9 277.7,1838.2 282.0,1831.2 286.5,1824.8 290.9,1819.3 295.8,1814.0 300.6,1809.5 305.8,1805.3 311.3,1801.6 317.4,1798.0 324.4,1794.6 331.7,1791.7 338.9,1789.4 346.7,1787.4 354.3,1786.1 361.9,1785.3 369.7,1785.0 376.5,1785.2 383.7,1785.9 390.4,1787.0 397.5,1788.6 404.3,1790.5 410.9,1792.9 417.3,1795.7 423.7,1799.0 429.1,1802.2 434.2,1805.7 439.2,1809.6 444.2,1814.1 449.2,1818.9 454.4,1824.5 460.0,1831.0 466.4,1838.8 474.6,1849.5 483.0,1860.7 491.6,1872.7 500.1,1885.0 517.3,1911.0 533.5,1937.2 546.0,1958.8 558.9,1982.6 571.2,2006.2 594.1,2051.4 602.7,2067.7 612.6,2085.1 623.7,2102.9 632.8,2116.7 642.3,2130.4 651.5,2143.2 660.9,2155.5 669.6,2166.3 678.2,2176.3 687.2,2186.2 696.7,2196.1 707.9,2207.1 719.9,2218.1 733.2,2229.6 747.6,2241.5 767.0,2256.8 789.4,2273.9 802.8,2283.6 814.2,2291.2 822.9,2296.4 831.7,2301.2 841.0,2305.8 851.4,2310.3 862.7,2314.8 876.0,2319.7 912.0,2332.0" stroke="#cc0066"/>
<path d="M82.0,2331.0 101.0,2315.1 114.4,2303.3 125.8,2292.2 130.6,2287.0 135.2,2281.8 139.2,2276.8 143.3,2271.4 147.0,2265.8 150.4,2260.2 153.9,2254.2 157.0,2248.0 163.7,2233.6 169.7,2219.1 175.7,2203.3 181.0,2188.2 185.7,2173.5 190.8,2155.9 200.3,2119.6 204.7,2103.8 219.6,2054.5 242.5,1975.4 249.3,1953.0 255.7,1932.9 265.0,1905.9 273.7,1883.0 278.0,1872.8 282.4,1863.0 286.6,1854.2 290.7,1846.4 295.1,1838.7 299.4,1832.1 303.7,1826.0 308.2,1820.4 312.9,1815.3 318.1,1810.4 323.2,1806.1 328.9,1801.9 335.3,1797.9 342.1,1794.3 348.7,1791.3 355.6,1788.7 362.7,1786.6 369.4,1785.2 376.2,1784.3 382.7,1784.0 388.3,1784.3 394.2,1784.9 400.1,1786.1 406.4,1787.7 412.5,1789.8 418.4,1792.2 424.6,1795.2 430.6,1798.5 436.3,1802.0 441.8,1805.9 447.1,1810.0 452.0,1814.2 457.1,1819.1 461.8,1824.1 466.7,1829.8 471.7,1836.1 479.0,1846.2 486.6,1857.9 495.0,1871.6 504.1,1887.4 518.2,1913.3 558.1,1989.1 585.0,2039.4 603.2,2072.3 609.8,2083.7 616.4,2094.5 626.1,2109.6 636.3,2124.7 646.7,2139.1 657.0,2152.7 666.8,2164.8 676.4,2176.0 686.6,2187.0 697.4,2197.9 710.2,2210.2 724.1,2222.5 739.6,2235.5 756.6,2249.1 776.7,2264.5 795.7,2278.5 808.1,2286.8 819.6,2293.7 829.6,2298.8 839.6,2303.3 850.8,2307.6 863.9,2312.1 878.4,2316.4 894.6,2320.9 913.8,2325.7 940.0,2332.0" stroke="#808000"/>
<path d="M82.0,2331.0 87.9,2320.3 101.5,2297.8 108.4,2285.9 114.2,2275.3 119.9,2264.0 126.8,2249.1 134.4,2231.5 145.5,2204.5 155.0,2180.3 162.8,2159.6 170.2,2138.6 177.5,2117.1 184.2,2096.0 188.8,2080.5 193.3,2064.7 206.9,2013.5 213.3,1990.2 219.9,1967.9 226.7,1947.1 235.5,1922.8 245.9,1896.1 255.0,1874.3 272.5,1832.8 277.8,1821.2 280.4,1816.2 283.0,1811.8 285.6,1808.0 288.5,1804.6 291.4,1801.6 294.7,1798.9 298.3,1796.4 302.6,1793.9 307.1,1791.7 312.4,1789.7 317.9,1788.0 323.7,1786.5 329.7,1785.4 335.8,1784.6 342.0,1784.1 348.7,1784.0 356.3,1784.2 363.7,1784.8 371.4,1785.8 378.5,1787.1 385.5,1788.7 392.0,1790.7 397.3,1792.7 402.1,1795.1 420.6,1806.6 426.6,1811.0 432.7,1816.0 440.0,1822.7 447.2,1830.0 454.2,1837.7 461.4,1846.4 467.4,1854.3 473.8,1863.1 480.3,1872.6 486.8,1882.5 500.6,1904.7 514.4,1928.7 525.8,1949.7 537.5,1972.6 549.1,1996.1 572.9,2045.5 583.6,2066.7 602.7,2101.6 621.3,2136.8 630.3,2153.3 640.8,2171.5 651.5,2188.4 663.9,2206.4 677.9,2225.0 692.9,2243.6 707.9,2260.8 719.3,2273.0 731.5,2285.1 781.5,2332.0" stroke="#99ccff"/>
<path d="M82.0,2331.0 96.8,2318.1 107.4,2308.4 116.4,2299.5 124.2,2291.2 131.1,2283.0 136.8,2275.3 142.0,2267.1 146.8,2258.3 151.9,2247.4 157.3,2234.3 177.5,2181.7 203.0,2116.9 230.1,2044.4 238.4,2023.7 246.5,2004.3 252.8,1990.0 259.0,1976.6 265.3,1963.7 272.0,1950.7 278.8,1938.3 285.8,1926.0 293.7,1912.7 301.8,1899.8 311.7,1884.5 321.8,1869.6 332.3,1854.7 342.5,1840.9 350.4,1830.5 357.1,1822.3 363.5,1815.3 369.5,1809.4 376.1,1803.9 382.8,1799.2 390.5,1794.7 398.2,1791.0 406.2,1788.0 414.4,1785.8 422.1,1784.5 429.3,1784.1 433.8,1784.2 438.4,1784.8 442.9,1785.7 447.5,1786.9 452.0,1788.5 456.4,1790.3 460.4,1792.4 463.8,1794.6 467.2,1797.3 472.4,1802.0 476.7,1806.2 480.8,1810.5 489.6,1820.8 498.9,1833.0 508.6,1847.0 519.8,1864.5 532.1,1884.8 545.9,1908.5 558.5,1930.9 572.0,1955.5 622.2,2049.5 632.4,2067.8 641.6,2082.9 648.9,2094.1 657.2,2106.1 667.0,2119.7 678.6,2135.2 693.5,2154.5 710.0,2175.5 721.3,2189.6 731.3,2201.3 740.0,2211.0 748.8,2220.2 757.9,2229.3 767.5,2238.2 778.0,2247.5 788.9,2256.7 800.6,2266.0 812.0,2274.7 821.8,2281.8 832.0,2288.7 842.1,2295.3 852.5,2301.7 863.2,2307.9 875.3,2314.7 908.0,2332.0" stroke="#cc9900"/>
<path d="M82.0,2331.0 97.7,2314.7 108.5,2302.9 117.7,2292.0 125.3,2282.0 131.8,2272.1 137.9,2261.1 143.5,2249.2 148.7,2236.2 154.0,2221.1 159.9,2202.6 180.4,2132.8 185.6,2114.3 192.5,2087.9 207.9,2024.3 216.6,1989.5 225.6,1955.3 234.3,1925.0 243.3,1896.2 247.6,1883.3 251.9,1871.4 256.2,1860.2 260.4,1850.2 264.3,1841.4 268.4,1833.3 272.1,1826.7 276.0,1820.7 279.9,1815.5 284.1,1810.8 288.4,1806.7 293.1,1803.0 298.3,1799.7 303.9,1796.7 310.4,1793.9 317.9,1791.3 325.7,1789.1 334.0,1787.3 342.6,1785.9 352.0,1784.8 361.0,1784.2 370.7,1784.0 379.3,1784.2 387.9,1784.6 396.6,1785.4 405.0,1786.5 412.7,1787.8 420.0,1789.5 425.9,1791.2 430.7,1793.0 432.9,1794.2 434.9,1795.5 440.8,1800.4 450.7,1807.3 456.5,1812.0 461.0,1816.1 465.8,1820.9 470.5,1826.2 475.1,1831.8 484.3,1844.1 494.6,1859.5 505.6,1877.6 518.2,1899.6 531.0,1922.9 546.6,1952.5 605.8,2066.5 614.8,2082.9 623.4,2097.3 631.8,2110.5 641.4,2124.4 651.4,2138.5 661.8,2152.1 671.8,2164.6 681.9,2176.6 691.9,2187.6 702.0,2198.3 712.5,2208.6 723.5,2218.7 735.3,2229.0 748.3,2239.7 767.8,2255.1 795.5,2276.2 807.7,2285.2 818.4,2292.3 826.5,2297.3 834.7,2301.9 843.5,2306.2 853.6,2310.8 864.3,2315.2 876.8,2319.9 911.0,2332.0" stroke="#99cc00"/>
</g>
<rect x="82" y="1674.6" width="991.7" height="657.0999999999999" fill="none" stroke="#000" stroke-width="2.2"/>
<line x1="1098.5" y1="1693.2" x2="1157.5" y2="1693.2" stroke="#99ff66" stroke-width="4.5" stroke-linecap="round"/>
<line x1="1098.5" y1="1734.2" x2="1157.5" y2="1734.2" stroke="#ff6600" stroke-width="4.5" stroke-linecap="round"/>
<line x1="1098.5" y1="1775.2" x2="1157.5" y2="1775.2" stroke="#00b050" stroke-width="4.5" stroke-linecap="round"/>
<line x1="1098.5" y1="1816.2" x2="1157.5" y2="1816.2" stroke="#ff33cc" stroke-width="4.5" stroke-linecap="round"/>
<line x1="1098.5" y1="1857.2" x2="1157.5" y2="1857.2" stroke="#ff3300" stroke-width="4.5" stroke-linecap="round"/>
<line x1="1098.5" y1="1898.2" x2="1157.5" y2="1898.2" stroke="#ff99ff" stroke-width="4.5" stroke-linecap="round"/>
<line x1="1098.5" y1="1939.2" x2="1157.5" y2="1939.2" stroke="#009999" stroke-width="4.5" stroke-linecap="round"/>
<line x1="1098.5" y1="1980.2" x2="1157.5" y2="1980.2" stroke="#ffff00" stroke-width="4.5" stroke-linecap="round"/>
<line x1="1098.5" y1="2021.2" x2="1157.5" y2="2021.2" stroke="#00ffff" stroke-width="4.5" stroke-linecap="round"/>
<line x1="1098.5" y1="2062.2" x2="1157.5" y2="2062.2" stroke="#cc00cc" stroke-width="4.5" stroke-linecap="round"/>
<line x1="1098.5" y1="2103.2" x2="1157.5" y2="2103.2" stroke="#003399" stroke-width="4.5" stroke-linecap="round"/>
<line x1="1098.5" y1="2144.2" x2="1157.5" y2="2144.2" stroke="#cc0066" stroke-width="4.5" stroke-linecap="round"/>
<line x1="1098.5" y1="2185.2" x2="1157.5" y2="2185.2" stroke="#808000" stroke-width="4.5" stroke-linecap="round"/>
<line x1="1098.5" y1="2226.2" x2="1157.5" y2="2226.2" stroke="#99ccff" stroke-width="4.5" stroke-linecap="round"/>
<line x1="1098.5" y1="2267.2" x2="1157.5" y2="2267.2" stroke="#cc9900" stroke-width="4.5" stroke-linecap="round"/>
<line x1="1098.5" y1="2308.2" x2="1157.5" y2="2308.2" stroke="#99cc00" stroke-width="4.5" stroke-linecap="round"/>
<text transform="translate(25.30,20.00) scale(1.0197,1)" font-family="Liberation Sans" font-size="23.47" fill="#000">1.2</text>
<text transform="translate(45.13,651.62) scale(1.0220,1)" font-family="Liberation Sans" font-size="24.07" fill="#000">0</text>
<text transform="translate(63.95,686.63) scale(1.0135,1)" font-family="Liberation Sans" font-size="23.79" fill="#000">535</text>
<text transform="translate(371.04,687.02) scale(1.0038,1)" font-family="Liberation Sans" font-size="24.21" fill="#000">595</text>
<text transform="translate(676.84,686.63) scale(1.0429,1)" font-family="Liberation Sans" font-size="23.65" fill="#000">655</text>
<text transform="translate(985.37,686.62) scale(0.9928,1)" font-family="Liberation Sans" font-size="24.21" fill="#000">715</text>
<text transform="translate(535.30,719.87) scale(1.0313,1)" font-family="Liberation Sans" font-size="26.65" fill="#000">λ(nm)</text>
<text transform="translate(552.68,773.92) scale(1.0083,1)" font-family="Liberation Serif" font-size="35.58" fill="#000">(a)</text>
<text transform="translate(23.27,400.16) rotate(-90) scale(0.9510,1)" font-family="Liberation Sans" font-size="27.73" fill="#000">Fluorescence</text>
<text transform="translate(125.05,75.80) scale(0.9601,1)" font-family="Liberation Sans" font-size="29.16" fill="#0b2358">14, 7, 6, 11, 15, 12, 16, 9, 13, 2, 10, 5, 3, 4, 1, 8</text>
<text transform="translate(24.13,827.60) scale(1.0379,1)" font-family="Liberation Sans" font-size="24.18" fill="#000">1.2</text>
<text transform="translate(45.43,1478.43) scale(1.0280,1)" font-family="Liberation Sans" font-size="23.93" fill="#000">0</text>
<text transform="translate(64.12,1514.52) scale(1.0097,1)" font-family="Liberation Sans" font-size="24.63" fill="#000">525</text>
<text transform="translate(235.91,1514.52) scale(1.0275,1)" font-family="Liberation Sans" font-size="24.63" fill="#000">545</text>
<text transform="translate(408.01,1514.52) scale(1.0275,1)" font-family="Liberation Sans" font-size="24.63" fill="#000">565</text>
<text transform="translate(580.01,1514.52) scale(1.0275,1)" font-family="Liberation Sans" font-size="24.63" fill="#000">585</text>
<text transform="translate(751.60,1514.52) scale(1.0376,1)" font-family="Liberation Sans" font-size="24.63" fill="#000">605</text>
<text transform="translate(923.60,1514.52) scale(1.0376,1)" font-family="Liberation Sans" font-size="24.63" fill="#000">625</text>
<text transform="translate(543.40,1559.62) scale(1.0215,1)" font-family="Liberation Sans" font-size="27.80" fill="#000">λ(nm)</text>
<text transform="translate(566.74,1612.58) scale(1.0134,1)" font-family="Liberation Sans" font-size="30.74" fill="#000">(b)</text>
<text transform="translate(33.06,1193.11) rotate(-90) scale(0.9509,1)" font-family="Liberation Sans" font-size="28.40" fill="#000">Fluorescence</text>
<text transform="translate(137.45,880.60) scale(0.9667,1)" font-family="Liberation Sans" font-size="29.72" fill="#0b2358">2, 16, 6, 12, 5, 7, 4, 3, 11, 13, 8, 10, 1, 15, 14, 9</text>
<text transform="translate(21.65,1682.60) scale(1.0132,1)" font-family="Liberation Sans" font-size="24.46" fill="#000">1.2</text>
<text transform="translate(42.00,2339.62) scale(1.0575,1)" font-family="Liberation Sans" font-size="24.21" fill="#000">0</text>
<text transform="translate(61.51,2375.92) scale(1.0160,1)" font-family="Liberation Sans" font-size="24.49" fill="#000">480</text>
<text transform="translate(294.82,2375.92) scale(1.0233,1)" font-family="Liberation Sans" font-size="24.49" fill="#000">520</text>
<text transform="translate(528.02,2375.92) scale(1.0233,1)" font-family="Liberation Sans" font-size="24.49" fill="#000">560</text>
<text transform="translate(761.31,2375.92) scale(1.0333,1)" font-family="Liberation Sans" font-size="24.49" fill="#000">600</text>
<text transform="translate(994.61,2375.92) scale(1.0333,1)" font-family="Liberation Sans" font-size="24.49" fill="#000">640</text>
<text transform="translate(542.00,2420.81) scale(1.0372,1)" font-family="Liberation Sans" font-size="27.38" fill="#000">λ(nm)</text>
<text transform="translate(561.46,2469.10) scale(0.9327,1)" font-family="Liberation Sans" font-size="30.64" fill="#000">(c)</text>
<text transform="translate(39.56,2086.92) rotate(-90) scale(0.9567,1)" font-family="Liberation Sans" font-size="28.33" fill="#000">Fluorescence</text>
<text transform="translate(141.26,1749.70) scale(0.9618,1)" font-family="Liberation Sans" font-size="29.72" fill="#0b2358">2, 3, 14, 1, 6, 12, 9, 16, 10, 13, 9, 4, 8, 7, 5, 15</text>
<text transform="translate(1132.00,41.30) scale(0.9804,1)" font-family="Liberation Sans" font-size="24.46" fill="#000">1-Cyclohexane</text>
<text transform="translate(1132.36,81.10) scale(0.9940,1)" font-family="Liberation Sans" font-size="24.46" fill="#000">2-1,4-Dioxane</text>
<text transform="translate(1132.74,120.90) scale(0.9924,1)" font-family="Liberation Sans" font-size="24.46" fill="#000">3-Chlorbenzene</text>
<text transform="translate(1133.12,160.70) scale(0.9876,1)" font-family="Liberation Sans" font-size="24.46" fill="#000">4-1-Decanol</text>
<text transform="translate(1132.72,200.50) scale(1.0175,1)" font-family="Liberation Sans" font-size="24.46" fill="#000">5-1-Heptanol</text>
<text transform="translate(1132.30,240.30) scale(1.0465,1)" font-family="Liberation Sans" font-size="24.46" fill="#000">6-Methylamine</text>
<text transform="translate(1132.32,280.10) scale(1.0294,1)" font-family="Liberation Sans" font-size="24.46" fill="#000">7-Dimethylamine</text>
<text transform="translate(1132.74,319.90) scale(0.9934,1)" font-family="Liberation Sans" font-size="24.46" fill="#000">8-1-Hexanol</text>
<text transform="translate(1132.33,359.70) scale(1.0165,1)" font-family="Liberation Sans" font-size="24.46" fill="#000">9-1-Butanol</text>
<text transform="translate(1131.95,399.50) scale(1.0114,1)" font-family="Liberation Sans" font-size="24.46" fill="#000">10-2-Propanol</text>
<text transform="translate(1131.93,439.30) scale(1.0278,1)" font-family="Liberation Sans" font-size="24.46" fill="#000">11-Ethanol</text>
<text transform="translate(1131.89,479.10) scale(1.0511,1)" font-family="Liberation Sans" font-size="24.46" fill="#000">12-Methanol</text>
<text transform="translate(1131.97,518.90) scale(1.0015,1)" font-family="Liberation Sans" font-size="24.46" fill="#000">13-Ethylen glycol</text>
<text transform="translate(1131.99,558.70) scale(0.9844,1)" font-family="Liberation Sans" font-size="24.46" fill="#000">14-DMF</text>
<text transform="translate(1132.02,598.50) scale(0.9696,1)" font-family="Liberation Sans" font-size="24.46" fill="#000">15-DMSO</text>
<text transform="translate(1131.91,638.30) scale(1.0380,1)" font-family="Liberation Sans" font-size="24.46" fill="#000">16-Water</text>
<text transform="translate(1162.46,846.35) scale(0.9867,1)" font-family="Liberation Sans" font-size="25.03" fill="#000">1-Cyclohexane</text>
<text transform="translate(1162.83,887.71) scale(1.0004,1)" font-family="Liberation Sans" font-size="25.03" fill="#000">2-1,4-Dioxane</text>
<text transform="translate(1163.22,929.07) scale(0.9988,1)" font-family="Liberation Sans" font-size="25.03" fill="#000">3-Chlorbenzene</text>
<text transform="translate(1163.61,970.43) scale(0.9940,1)" font-family="Liberation Sans" font-size="25.03" fill="#000">4-1-Decanol</text>
<text transform="translate(1163.20,1011.79) scale(1.0240,1)" font-family="Liberation Sans" font-size="25.03" fill="#000">5-1-Heptanol</text>
<text transform="translate(1162.76,1053.15) scale(1.0533,1)" font-family="Liberation Sans" font-size="25.03" fill="#000">6-Methylamine</text>
<text transform="translate(1162.78,1094.51) scale(1.0361,1)" font-family="Liberation Sans" font-size="25.03" fill="#000">7-Dimethylamine</text>
<text transform="translate(1163.22,1135.87) scale(0.9999,1)" font-family="Liberation Sans" font-size="25.03" fill="#000">8-1-Hexanol</text>
<text transform="translate(1162.80,1177.23) scale(1.0230,1)" font-family="Liberation Sans" font-size="25.03" fill="#000">9-1-Butanol</text>
<text transform="translate(1162.41,1218.59) scale(1.0179,1)" font-family="Liberation Sans" font-size="25.03" fill="#000">10-2-Propanol</text>
<text transform="translate(1162.38,1259.95) scale(1.0345,1)" font-family="Liberation Sans" font-size="25.03" fill="#000">11-Ethanol</text>
<text transform="translate(1162.35,1301.31) scale(1.0579,1)" font-family="Liberation Sans" font-size="25.03" fill="#000">12-Methanol</text>
<text transform="translate(1162.42,1342.67) scale(1.0080,1)" font-family="Liberation Sans" font-size="25.03" fill="#000">13-Ethylen glycol</text>
<text transform="translate(1162.45,1384.03) scale(0.9908,1)" font-family="Liberation Sans" font-size="25.03" fill="#000">14-DMF</text>
<text transform="translate(1162.47,1425.39) scale(0.9759,1)" font-family="Liberation Sans" font-size="25.03" fill="#000">15-DMSO</text>
<text transform="translate(1162.37,1466.75) scale(1.0447,1)" font-family="Liberation Sans" font-size="25.03" fill="#000">16-Water</text>
<text transform="translate(1163.46,1701.35) scale(0.9867,1)" font-family="Liberation Sans" font-size="25.03" fill="#000">1-Cyclohexane</text>
<text transform="translate(1163.83,1742.35) scale(1.0004,1)" font-family="Liberation Sans" font-size="25.03" fill="#000">2-1,4-Dioxane</text>
<text transform="translate(1164.22,1783.35) scale(0.9988,1)" font-family="Liberation Sans" font-size="25.03" fill="#000">3-Chlorbenzene</text>
<text transform="translate(1164.61,1824.35) scale(0.9940,1)" font-family="Liberation Sans" font-size="25.03" fill="#000">4-1-Decanol</text>
<text transform="translate(1164.20,1865.35) scale(1.0240,1)" font-family="Liberation Sans" font-size="25.03" fill="#000">5-1-Heptanol</text>
<text transform="translate(1163.76,1906.35) scale(1.0533,1)" font-family="Liberation Sans" font-size="25.03" fill="#000">6-Methylamine</text>
<text transform="translate(1163.78,1947.35) scale(1.0361,1)" font-family="Liberation Sans" font-size="25.03" fill="#000">7-Dimethylamine</text>
<text transform="translate(1164.22,1988.35) scale(0.9999,1)" font-family="Liberation Sans" font-size="25.03" fill="#000">8-1-Hexanol</text>
<text transform="translate(1163.80,2029.35) scale(1.0230,1)" font-family="Liberation Sans" font-size="25.03" fill="#000">9-1-Butanol</text>
<text transform="translate(1163.41,2070.35) scale(1.0179,1)" font-family="Liberation Sans" font-size="25.03" fill="#000">10-2-Propanol</text>
<text transform="translate(1163.38,2111.35) scale(1.0345,1)" font-family="Liberation Sans" font-size="25.03" fill="#000">11-Ethanol</text>
<text transform="translate(1163.35,2152.35) scale(1.0579,1)" font-family="Liberation Sans" font-size="25.03" fill="#000">12-Methanol</text>
<text transform="translate(1163.42,2193.35) scale(1.0080,1)" font-family="Liberation Sans" font-size="25.03" fill="#000">13-Ethylen glycol</text>
<text transform="translate(1163.45,2234.35) scale(0.9908,1)" font-family="Liberation Sans" font-size="25.03" fill="#000">14-DMF</text>
<text transform="translate(1163.47,2275.35) scale(0.9759,1)" font-family="Liberation Sans" font-size="25.03" fill="#000">15-DMSO</text>
<text transform="translate(1163.37,2316.35) scale(1.0447,1)" font-family="Liberation Sans" font-size="25.03" fill="#000">16-Water</text>
</svg>
</body></html>
